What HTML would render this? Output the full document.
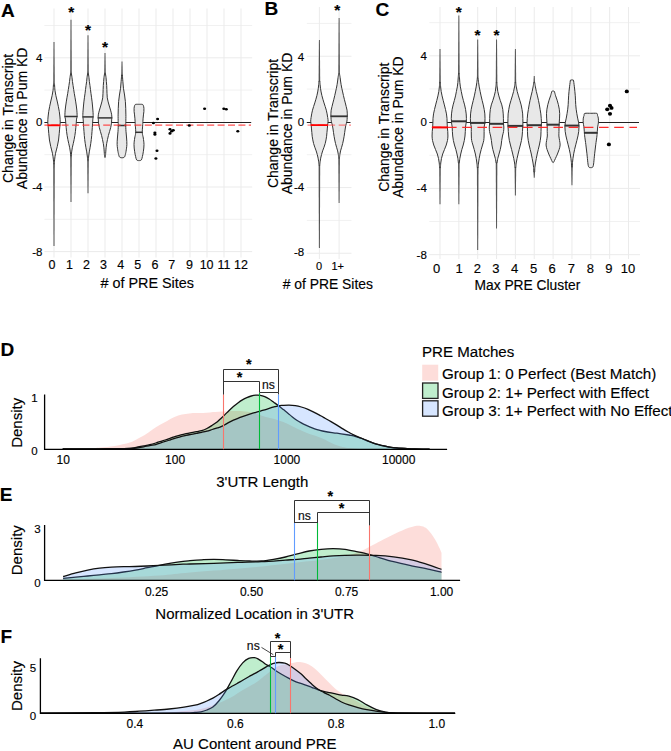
<!DOCTYPE html>
<html><head><meta charset="utf-8"><style>
html,body{margin:0;padding:0;background:#fff;}
svg{display:block;} text{stroke:#000;stroke-width:0.15px;}
</style></head><body>
<svg width="671" height="751" viewBox="0 0 671 751" style="font-family:'Liberation Sans',sans-serif">
<rect width="671" height="751" fill="#fff"/>
<line x1="44.4" x2="252.2" y1="25.50" y2="25.50" stroke="#f1f1f1" stroke-width="1"/>
<line x1="44.4" x2="252.2" y1="90.10" y2="90.10" stroke="#f1f1f1" stroke-width="1"/>
<line x1="44.4" x2="252.2" y1="154.70" y2="154.70" stroke="#f1f1f1" stroke-width="1"/>
<line x1="44.4" x2="252.2" y1="219.30" y2="219.30" stroke="#f1f1f1" stroke-width="1"/>
<line x1="44.4" x2="252.2" y1="57.80" y2="57.80" stroke="#ebebeb" stroke-width="1"/>
<line x1="44.4" x2="252.2" y1="187.00" y2="187.00" stroke="#ebebeb" stroke-width="1"/>
<line x1="44.4" x2="252.2" y1="251.60" y2="251.60" stroke="#ebebeb" stroke-width="1"/>
<line x1="54.0" x2="54.0" y1="8.5" y2="257.5" stroke="#ebebeb" stroke-width="1"/>
<line x1="71.0" x2="71.0" y1="8.5" y2="257.5" stroke="#ebebeb" stroke-width="1"/>
<line x1="88.0" x2="88.0" y1="8.5" y2="257.5" stroke="#ebebeb" stroke-width="1"/>
<line x1="105.0" x2="105.0" y1="8.5" y2="257.5" stroke="#ebebeb" stroke-width="1"/>
<line x1="122.0" x2="122.0" y1="8.5" y2="257.5" stroke="#ebebeb" stroke-width="1"/>
<line x1="139.0" x2="139.0" y1="8.5" y2="257.5" stroke="#ebebeb" stroke-width="1"/>
<line x1="156.0" x2="156.0" y1="8.5" y2="257.5" stroke="#ebebeb" stroke-width="1"/>
<line x1="173.0" x2="173.0" y1="8.5" y2="257.5" stroke="#ebebeb" stroke-width="1"/>
<line x1="190.0" x2="190.0" y1="8.5" y2="257.5" stroke="#ebebeb" stroke-width="1"/>
<line x1="207.0" x2="207.0" y1="8.5" y2="257.5" stroke="#ebebeb" stroke-width="1"/>
<line x1="224.0" x2="224.0" y1="8.5" y2="257.5" stroke="#ebebeb" stroke-width="1"/>
<line x1="241.0" x2="241.0" y1="8.5" y2="257.5" stroke="#ebebeb" stroke-width="1"/>
<text x="42.40" y="61.80" font-size="11.5" text-anchor="end" font-weight="normal" fill="#000" >4</text>
<text x="42.40" y="126.40" font-size="11.5" text-anchor="end" font-weight="normal" fill="#000" >0</text>
<text x="42.40" y="191.00" font-size="11.5" text-anchor="end" font-weight="normal" fill="#000" >-4</text>
<text x="42.40" y="255.60" font-size="11.5" text-anchor="end" font-weight="normal" fill="#000" >-8</text>
<text x="52.10" y="269.30" font-size="12.5" text-anchor="middle" font-weight="normal" fill="#000" >0</text>
<text x="69.50" y="269.30" font-size="12.5" text-anchor="middle" font-weight="normal" fill="#000" >1</text>
<text x="86.50" y="269.30" font-size="12.5" text-anchor="middle" font-weight="normal" fill="#000" >2</text>
<text x="103.50" y="269.30" font-size="12.5" text-anchor="middle" font-weight="normal" fill="#000" >3</text>
<text x="120.80" y="269.30" font-size="12.5" text-anchor="middle" font-weight="normal" fill="#000" >4</text>
<text x="137.80" y="269.30" font-size="12.5" text-anchor="middle" font-weight="normal" fill="#000" >5</text>
<text x="155.10" y="269.30" font-size="12.5" text-anchor="middle" font-weight="normal" fill="#000" >6</text>
<text x="171.80" y="269.30" font-size="12.5" text-anchor="middle" font-weight="normal" fill="#000" >7</text>
<text x="189.60" y="269.30" font-size="12.5" text-anchor="middle" font-weight="normal" fill="#000" >9</text>
<text x="206.60" y="269.30" font-size="12.5" text-anchor="middle" font-weight="normal" fill="#000" >10</text>
<text x="224.00" y="269.30" font-size="12.5" text-anchor="middle" font-weight="normal" fill="#000" >11</text>
<text x="241.00" y="269.30" font-size="12.5" text-anchor="middle" font-weight="normal" fill="#000" >12</text>
<text x="147.20" y="287.90" font-size="14.4" text-anchor="middle" font-weight="normal" fill="#000" ># of PRE Sites</text>
<text transform="translate(13.4,118.4) rotate(-90)" font-size="14" text-anchor="middle" fill="#000">Change in Transcript</text>
<text transform="translate(27.2,118.4) rotate(-90)" font-size="14" text-anchor="middle" fill="#000">Abundance in Pum KD</text>
<line x1="44.4" x2="251.2" y1="122.5" y2="122.5" stroke="#222" stroke-width="1.0"/>
<path d="M53.52,42 L54.48,42 L54.80,84.5 L53.20,84.5Z" fill="#555"/>
<path d="M53.52,246 L54.48,246 L54.80,163.5 L53.20,163.5Z" fill="#555"/>
<path d="M53.69,84.00 C53.64,84.17 53.55,83.95 53.44,85.00 C53.33,86.05 53.28,88.52 53.05,90.30 C52.83,92.08 52.47,93.92 52.10,95.70 C51.73,97.48 51.25,99.23 50.85,101.00 C50.45,102.77 50.06,104.53 49.70,106.30 C49.34,108.07 48.98,109.82 48.70,111.60 C48.43,113.38 48.20,115.22 48.05,117.00 C47.90,118.78 47.77,120.68 47.80,122.30 C47.82,123.92 48.04,124.87 48.20,126.70 C48.36,128.53 48.54,131.08 48.75,133.30 C48.96,135.52 49.12,137.78 49.45,140.00 C49.78,142.22 50.25,144.38 50.75,146.60 C51.25,148.82 52.01,151.08 52.45,153.30 C52.89,155.52 53.20,158.12 53.41,159.90 C53.61,161.68 53.64,163.32 53.69,164.00 L54.31,164.00 C54.36,163.32 54.39,161.68 54.59,159.90 C54.80,158.12 55.11,155.52 55.55,153.30 C55.99,151.08 56.75,148.82 57.25,146.60 C57.75,144.38 58.22,142.22 58.55,140.00 C58.88,137.78 59.04,135.52 59.25,133.30 C59.46,131.08 59.64,128.53 59.80,126.70 C59.96,124.87 60.18,123.92 60.20,122.30 C60.23,120.68 60.10,118.78 59.95,117.00 C59.80,115.22 59.57,113.38 59.30,111.60 C59.02,109.82 58.66,108.07 58.30,106.30 C57.94,104.53 57.55,102.77 57.15,101.00 C56.75,99.23 56.27,97.48 55.90,95.70 C55.53,93.92 55.17,92.08 54.95,90.30 C54.72,88.52 54.67,86.05 54.56,85.00 C54.45,83.95 54.36,84.17 54.31,84.00Z" fill="#e8e8e8" stroke="#353535" stroke-width="1.0" stroke-linejoin="round"/>
<path d="M70.53,19.7 L71.47,19.7 L71.80,73.7 L70.20,73.7Z" fill="#555"/>
<path d="M70.53,201.9 L71.47,201.9 L71.80,155.5 L70.20,155.5Z" fill="#555"/>
<path d="M70.69,73.20 C70.57,73.88 70.21,75.93 70.02,77.30 C69.83,78.67 69.73,80.03 69.55,81.40 C69.37,82.77 69.14,84.13 68.94,85.50 C68.73,86.87 68.53,88.23 68.32,89.60 C68.11,90.97 67.90,92.33 67.67,93.70 C67.44,95.07 67.16,96.43 66.93,97.80 C66.70,99.17 66.48,100.53 66.27,101.90 C66.06,103.27 65.84,104.63 65.66,106.00 C65.48,107.37 65.29,108.73 65.17,110.10 C65.05,111.47 64.97,113.12 64.92,114.20 C64.88,115.28 64.81,115.78 64.90,116.60 C64.99,117.42 65.30,118.00 65.45,119.10 C65.60,120.20 65.66,121.83 65.78,123.20 C65.90,124.57 66.02,125.93 66.15,127.30 C66.28,128.67 66.40,130.03 66.56,131.40 C66.72,132.77 66.91,134.13 67.13,135.50 C67.35,136.87 67.60,138.23 67.87,139.60 C68.14,140.97 68.46,142.33 68.77,143.70 C69.08,145.07 69.45,146.43 69.71,147.80 C69.97,149.17 70.18,150.53 70.34,151.90 C70.50,153.27 70.63,155.32 70.69,156.00 L71.31,156.00 C71.37,155.32 71.50,153.27 71.66,151.90 C71.82,150.53 72.03,149.17 72.29,147.80 C72.55,146.43 72.92,145.07 73.23,143.70 C73.54,142.33 73.86,140.97 74.13,139.60 C74.40,138.23 74.65,136.87 74.87,135.50 C75.09,134.13 75.28,132.77 75.44,131.40 C75.60,130.03 75.72,128.67 75.85,127.30 C75.98,125.93 76.10,124.57 76.22,123.20 C76.34,121.83 76.40,120.20 76.55,119.10 C76.70,118.00 77.01,117.42 77.10,116.60 C77.19,115.78 77.12,115.28 77.08,114.20 C77.03,113.12 76.95,111.47 76.83,110.10 C76.71,108.73 76.52,107.37 76.34,106.00 C76.16,104.63 75.94,103.27 75.73,101.90 C75.52,100.53 75.30,99.17 75.07,97.80 C74.84,96.43 74.56,95.07 74.33,93.70 C74.10,92.33 73.89,90.97 73.68,89.60 C73.47,88.23 73.27,86.87 73.06,85.50 C72.86,84.13 72.63,82.77 72.45,81.40 C72.27,80.03 72.17,78.67 71.98,77.30 C71.79,75.93 71.43,73.88 71.31,73.20Z" fill="#e8e8e8" stroke="#353535" stroke-width="1.0" stroke-linejoin="round"/>
<path d="M87.53,35.2 L88.47,35.2 L88.80,73.7 L87.20,73.7Z" fill="#555"/>
<path d="M87.53,193.2 L88.47,193.2 L88.80,159.6 L87.20,159.6Z" fill="#555"/>
<path d="M87.69,73.20 C87.58,73.88 87.23,75.93 87.06,77.30 C86.88,78.67 86.81,80.03 86.65,81.40 C86.48,82.77 86.25,84.13 86.06,85.50 C85.87,86.87 85.71,88.23 85.53,89.60 C85.35,90.97 85.19,92.33 85.00,93.70 C84.81,95.07 84.61,96.43 84.42,97.80 C84.23,99.17 84.05,100.53 83.89,101.90 C83.73,103.27 83.61,104.63 83.48,106.00 C83.35,107.37 83.21,108.73 83.11,110.10 C83.01,111.47 82.90,113.12 82.86,114.20 C82.82,115.28 82.81,115.78 82.86,116.60 C82.91,117.42 83.06,118.00 83.15,119.10 C83.24,120.20 83.31,121.83 83.40,123.20 C83.49,124.57 83.59,125.93 83.68,127.30 C83.78,128.67 83.87,130.03 83.97,131.40 C84.07,132.77 84.18,134.13 84.30,135.50 C84.42,136.87 84.55,138.23 84.71,139.60 C84.87,140.97 85.08,142.33 85.28,143.70 C85.48,145.07 85.70,146.43 85.94,147.80 C86.18,149.17 86.49,150.53 86.71,151.90 C86.94,153.27 87.12,154.63 87.29,156.00 C87.45,157.37 87.62,159.42 87.69,160.10 L88.31,160.10 C88.38,159.42 88.55,157.37 88.71,156.00 C88.88,154.63 89.06,153.27 89.29,151.90 C89.51,150.53 89.82,149.17 90.06,147.80 C90.30,146.43 90.52,145.07 90.72,143.70 C90.92,142.33 91.13,140.97 91.29,139.60 C91.45,138.23 91.58,136.87 91.70,135.50 C91.82,134.13 91.93,132.77 92.03,131.40 C92.13,130.03 92.22,128.67 92.32,127.30 C92.41,125.93 92.51,124.57 92.60,123.20 C92.69,121.83 92.76,120.20 92.85,119.10 C92.94,118.00 93.09,117.42 93.14,116.60 C93.19,115.78 93.18,115.28 93.14,114.20 C93.10,113.12 92.99,111.47 92.89,110.10 C92.79,108.73 92.65,107.37 92.52,106.00 C92.39,104.63 92.27,103.27 92.11,101.90 C91.95,100.53 91.77,99.17 91.58,97.80 C91.39,96.43 91.19,95.07 91.00,93.70 C90.81,92.33 90.65,90.97 90.47,89.60 C90.29,88.23 90.13,86.87 89.94,85.50 C89.75,84.13 89.52,82.77 89.35,81.40 C89.19,80.03 89.12,78.67 88.94,77.30 C88.77,75.93 88.42,73.88 88.31,73.20Z" fill="#e8e8e8" stroke="#353535" stroke-width="1.0" stroke-linejoin="round"/>
<path d="M104.53,52.9 L105.47,52.9 L105.80,73.7 L104.20,73.7Z" fill="#555"/>
<path d="M104.65,73.20 C104.54,73.88 104.17,75.93 104.00,77.30 C103.83,78.67 103.77,80.03 103.65,81.40 C103.53,82.77 103.38,84.13 103.30,85.50 C103.22,86.87 103.19,88.23 103.14,89.60 C103.09,90.97 103.05,92.33 102.98,93.70 C102.91,95.07 102.92,96.43 102.73,97.80 C102.54,99.17 102.17,100.53 101.83,101.90 C101.49,103.27 101.08,104.63 100.68,106.00 C100.28,107.37 99.83,108.73 99.45,110.10 C99.08,111.47 98.65,112.97 98.43,114.20 C98.21,115.43 98.16,116.68 98.14,117.50 C98.12,118.32 98.24,118.15 98.30,119.10 C98.36,120.05 98.35,121.83 98.51,123.20 C98.67,124.57 98.94,125.93 99.25,127.30 C99.56,128.67 100.01,130.03 100.40,131.40 C100.79,132.77 101.22,134.13 101.58,135.50 C101.94,136.87 102.23,138.23 102.53,139.60 C102.83,140.97 103.12,142.33 103.35,143.70 C103.58,145.07 103.76,146.43 103.91,147.80 C104.05,149.17 104.15,150.78 104.23,151.90 C104.31,153.02 104.34,153.72 104.41,154.50 C104.47,155.28 104.56,156.10 104.65,156.60 C104.74,157.10 104.90,157.35 104.95,157.50 L105.05,157.50 C105.10,157.35 105.26,157.10 105.35,156.60 C105.44,156.10 105.53,155.28 105.59,154.50 C105.66,153.72 105.69,153.02 105.77,151.90 C105.85,150.78 105.95,149.17 106.09,147.80 C106.24,146.43 106.42,145.07 106.65,143.70 C106.88,142.33 107.17,140.97 107.47,139.60 C107.77,138.23 108.06,136.87 108.42,135.50 C108.78,134.13 109.21,132.77 109.60,131.40 C109.99,130.03 110.44,128.67 110.75,127.30 C111.06,125.93 111.33,124.57 111.49,123.20 C111.65,121.83 111.64,120.05 111.70,119.10 C111.76,118.15 111.88,118.32 111.86,117.50 C111.84,116.68 111.79,115.43 111.57,114.20 C111.35,112.97 110.92,111.47 110.55,110.10 C110.17,108.73 109.72,107.37 109.32,106.00 C108.92,104.63 108.51,103.27 108.17,101.90 C107.83,100.53 107.46,99.17 107.27,97.80 C107.08,96.43 107.09,95.07 107.02,93.70 C106.95,92.33 106.91,90.97 106.86,89.60 C106.81,88.23 106.78,86.87 106.70,85.50 C106.62,84.13 106.47,82.77 106.35,81.40 C106.23,80.03 106.17,78.67 106.00,77.30 C105.83,75.93 105.46,73.88 105.35,73.20Z" fill="#e8e8e8" stroke="#353535" stroke-width="1.0" stroke-linejoin="round"/>
<path d="M121.53,61.6 L122.47,61.6 L122.80,75.5 L121.20,75.5Z" fill="#555"/>
<path d="M121.65,75.00 C121.56,76.11 121.30,79.43 121.12,81.65 C120.93,83.87 120.82,86.08 120.54,88.30 C120.26,90.52 119.76,92.78 119.44,95.00 C119.12,97.22 118.80,99.38 118.61,101.60 C118.42,103.82 118.36,106.08 118.28,108.30 C118.20,110.52 118.13,112.68 118.11,114.90 C118.09,117.12 118.15,119.97 118.18,121.60 C118.21,123.22 118.31,123.03 118.28,124.65 C118.25,126.27 118.16,129.08 118.01,131.30 C117.87,133.53 117.55,135.78 117.41,138.00 C117.27,140.22 117.05,142.38 117.14,144.60 C117.23,146.82 117.69,149.63 117.94,151.30 C118.19,152.97 118.45,153.72 118.67,154.60 C118.89,155.48 119.02,156.12 119.27,156.60 C119.52,157.08 119.75,157.30 120.20,157.50 C120.65,157.70 121.66,157.75 121.95,157.80 L122.05,157.80 C122.34,157.75 123.35,157.70 123.80,157.50 C124.25,157.30 124.48,157.08 124.73,156.60 C124.98,156.12 125.11,155.48 125.33,154.60 C125.55,153.72 125.81,152.97 126.06,151.30 C126.31,149.63 126.77,146.82 126.86,144.60 C126.95,142.38 126.73,140.22 126.59,138.00 C126.45,135.78 126.13,133.53 125.99,131.30 C125.84,129.08 125.75,126.27 125.72,124.65 C125.69,123.03 125.79,123.22 125.82,121.60 C125.85,119.97 125.91,117.12 125.89,114.90 C125.87,112.68 125.80,110.52 125.72,108.30 C125.64,106.08 125.58,103.82 125.39,101.60 C125.20,99.38 124.88,97.22 124.56,95.00 C124.24,92.78 123.74,90.52 123.46,88.30 C123.18,86.08 123.07,83.87 122.88,81.65 C122.70,79.43 122.44,76.11 122.35,75.00Z" fill="#e8e8e8" stroke="#353535" stroke-width="1.0" stroke-linejoin="round"/>
<path d="M138.95,104.30 C138.39,104.32 136.32,104.18 135.60,104.40 C134.88,104.62 134.86,104.95 134.61,105.60 C134.36,106.25 134.16,107.30 134.08,108.30 C134.00,109.30 134.03,110.50 134.11,111.60 C134.19,112.70 134.41,113.80 134.54,114.90 C134.67,116.00 134.78,117.08 134.88,118.20 C134.97,119.32 135.04,120.52 135.11,121.60 C135.18,122.67 135.18,123.03 135.28,124.65 C135.38,126.27 135.68,129.64 135.71,131.30 C135.74,132.96 135.61,133.48 135.44,134.60 C135.27,135.72 134.95,136.33 134.71,138.00 C134.47,139.67 134.03,142.38 134.01,144.60 C133.99,146.82 134.34,149.30 134.61,151.30 C134.88,153.30 135.28,155.17 135.61,156.60 C135.94,158.03 136.22,159.25 136.61,159.90 C137.00,160.55 137.56,160.38 137.95,160.50 C138.34,160.62 138.78,160.58 138.95,160.60 L139.05,160.60 C139.22,160.58 139.66,160.62 140.05,160.50 C140.44,160.38 141.00,160.55 141.39,159.90 C141.78,159.25 142.06,158.03 142.39,156.60 C142.72,155.17 143.12,153.30 143.39,151.30 C143.66,149.30 144.01,146.82 143.99,144.60 C143.97,142.38 143.53,139.67 143.29,138.00 C143.05,136.33 142.73,135.72 142.56,134.60 C142.39,133.48 142.26,132.96 142.29,131.30 C142.32,129.64 142.62,126.27 142.72,124.65 C142.82,123.03 142.82,122.67 142.89,121.60 C142.96,120.52 143.03,119.32 143.12,118.20 C143.22,117.08 143.33,116.00 143.46,114.90 C143.59,113.80 143.81,112.70 143.89,111.60 C143.97,110.50 144.00,109.30 143.92,108.30 C143.84,107.30 143.64,106.25 143.39,105.60 C143.14,104.95 143.12,104.62 142.40,104.40 C141.68,104.18 139.61,104.32 139.05,104.30Z" fill="#e8e8e8" stroke="#353535" stroke-width="1.0" stroke-linejoin="round"/>
<line x1="64.45" x2="77.55" y1="116.5" y2="116.5" stroke="#333" stroke-width="1.5"/>
<line x1="82.44" x2="93.56" y1="116.9" y2="116.9" stroke="#333" stroke-width="1.5"/>
<line x1="97.73" x2="112.27" y1="117.9" y2="117.9" stroke="#333" stroke-width="1.5"/>
<line x1="117.80" x2="126.20" y1="125.5" y2="125.5" stroke="#333" stroke-width="1.5"/>
<line x1="135.18" x2="142.82" y1="132.3" y2="132.3" stroke="#333" stroke-width="1.5"/>
<line x1="44.4" x2="251" y1="125.2" y2="125.2" stroke="#f33" stroke-opacity="0.85" stroke-width="1.3" stroke-dasharray="7 3.4" stroke-dashoffset="-6.80"/>
<line x1="47.62" x2="60.38" y1="125.3" y2="125.3" stroke="#f00" stroke-width="1.8"/>
<ellipse cx="157.6" cy="119" rx="1.55" ry="1.32" fill="#000"/>
<ellipse cx="153.4" cy="123" rx="1.55" ry="1.32" fill="#000"/>
<ellipse cx="154.9" cy="132.8" rx="1.55" ry="1.32" fill="#000"/>
<ellipse cx="154.9" cy="134.4" rx="1.55" ry="1.32" fill="#000"/>
<ellipse cx="157" cy="150.7" rx="1.55" ry="1.32" fill="#000"/>
<ellipse cx="155.9" cy="158.5" rx="1.55" ry="1.32" fill="#000"/>
<ellipse cx="170" cy="129.2" rx="1.55" ry="1.32" fill="#000"/>
<ellipse cx="173.3" cy="130.3" rx="1.55" ry="1.32" fill="#000"/>
<ellipse cx="171.6" cy="131.3" rx="1.55" ry="1.32" fill="#000"/>
<ellipse cx="170" cy="133.4" rx="1.55" ry="1.32" fill="#000"/>
<ellipse cx="189.3" cy="125.5" rx="1.55" ry="1.32" fill="#000"/>
<ellipse cx="204.6" cy="108.8" rx="1.55" ry="1.32" fill="#000"/>
<ellipse cx="223.8" cy="108.8" rx="1.55" ry="1.32" fill="#000"/>
<ellipse cx="226.3" cy="109.2" rx="1.55" ry="1.32" fill="#000"/>
<ellipse cx="237.8" cy="131.3" rx="1.55" ry="1.32" fill="#000"/>
<text x="71.20" y="17.22" font-size="15.5" text-anchor="middle" font-weight="bold" fill="#000" >*</text>
<text x="88.10" y="34.52" font-size="15.5" text-anchor="middle" font-weight="bold" fill="#000" >*</text>
<text x="105.10" y="52.32" font-size="15.5" text-anchor="middle" font-weight="bold" fill="#000" >*</text>
<text x="0.90" y="16.60" font-size="19" text-anchor="start" font-weight="bold" fill="#000" >A</text>
<line x1="306.8" x2="351.5" y1="23.38" y2="23.38" stroke="#f1f1f1" stroke-width="1"/>
<line x1="306.8" x2="351.5" y1="89.06" y2="89.06" stroke="#f1f1f1" stroke-width="1"/>
<line x1="306.8" x2="351.5" y1="154.74" y2="154.74" stroke="#f1f1f1" stroke-width="1"/>
<line x1="306.8" x2="351.5" y1="220.42" y2="220.42" stroke="#f1f1f1" stroke-width="1"/>
<line x1="306.8" x2="351.5" y1="56.22" y2="56.22" stroke="#ebebeb" stroke-width="1"/>
<line x1="306.8" x2="351.5" y1="187.58" y2="187.58" stroke="#ebebeb" stroke-width="1"/>
<line x1="306.8" x2="351.5" y1="253.26" y2="253.26" stroke="#ebebeb" stroke-width="1"/>
<line x1="319.4" x2="319.4" y1="7" y2="259" stroke="#ebebeb" stroke-width="1"/>
<line x1="339.1" x2="339.1" y1="7" y2="259" stroke="#ebebeb" stroke-width="1"/>
<text x="304.20" y="61.00" font-size="11.5" text-anchor="end" font-weight="normal" fill="#000" >4</text>
<text x="304.20" y="125.70" font-size="11.5" text-anchor="end" font-weight="normal" fill="#000" >0</text>
<text x="304.20" y="190.60" font-size="11.5" text-anchor="end" font-weight="normal" fill="#000" >-4</text>
<text x="304.20" y="255.60" font-size="11.5" text-anchor="end" font-weight="normal" fill="#000" >-8</text>
<text x="319.10" y="270.30" font-size="11" text-anchor="middle" font-weight="normal" fill="#000" >0</text>
<text x="337.70" y="270.30" font-size="11" text-anchor="middle" font-weight="normal" fill="#000" >1+</text>
<text x="327.80" y="288.60" font-size="13.9" text-anchor="middle" font-weight="normal" fill="#000" ># of PRE Sites</text>
<text transform="translate(277.9,123.5) rotate(-90)" font-size="14" text-anchor="middle" fill="#000">Change in Transcript</text>
<text transform="translate(291.7,123.5) rotate(-90)" font-size="14" text-anchor="middle" fill="#000">Abundance in Pum KD</text>
<line x1="306.8" x2="350.5" y1="122.5" y2="122.5" stroke="#222" stroke-width="1.0"/>
<path d="M318.92,40 L319.88,40 L320.20,81.5 L318.60,81.5Z" fill="#555"/>
<path d="M318.92,247.9 L319.88,247.9 L320.20,164.95 L318.60,164.95Z" fill="#555"/>
<path d="M318.95,81.00 C318.91,81.61 318.81,83.43 318.70,84.65 C318.59,85.87 318.47,87.08 318.30,88.30 C318.13,89.52 317.93,90.73 317.70,91.95 C317.47,93.17 317.20,94.38 316.90,95.60 C316.60,96.82 316.25,98.03 315.90,99.25 C315.55,100.47 315.18,101.68 314.80,102.90 C314.42,104.12 313.98,105.33 313.60,106.55 C313.22,107.77 312.82,108.98 312.50,110.20 C312.18,111.42 311.93,112.63 311.70,113.85 C311.47,115.07 311.27,116.28 311.10,117.50 C310.93,118.72 310.68,119.85 310.70,121.15 C310.72,122.45 311.07,124.00 311.20,125.30 C311.33,126.60 311.39,127.73 311.50,128.95 C311.61,130.17 311.73,131.38 311.85,132.60 C311.97,133.82 312.04,135.03 312.20,136.25 C312.36,137.47 312.57,138.68 312.80,139.90 C313.03,141.12 313.27,142.33 313.60,143.55 C313.93,144.77 314.37,145.98 314.80,147.20 C315.22,148.42 315.74,149.63 316.15,150.85 C316.56,152.07 316.93,153.28 317.25,154.50 C317.57,155.72 317.86,156.93 318.10,158.15 C318.34,159.37 318.54,160.58 318.70,161.80 C318.86,163.02 318.99,164.84 319.05,165.45 L319.75,165.45 C319.81,164.84 319.94,163.02 320.10,161.80 C320.26,160.58 320.46,159.37 320.70,158.15 C320.94,156.93 321.22,155.72 321.55,154.50 C321.87,153.28 322.24,152.07 322.65,150.85 C323.06,149.63 323.57,148.42 324.00,147.20 C324.43,145.98 324.87,144.77 325.20,143.55 C325.53,142.33 325.77,141.12 326.00,139.90 C326.23,138.68 326.44,137.47 326.60,136.25 C326.76,135.03 326.83,133.82 326.95,132.60 C327.07,131.38 327.19,130.17 327.30,128.95 C327.41,127.73 327.47,126.60 327.60,125.30 C327.73,124.00 328.08,122.45 328.10,121.15 C328.12,119.85 327.87,118.72 327.70,117.50 C327.53,116.28 327.33,115.07 327.10,113.85 C326.87,112.63 326.62,111.42 326.30,110.20 C325.98,108.98 325.58,107.77 325.20,106.55 C324.82,105.33 324.38,104.12 324.00,102.90 C323.62,101.68 323.25,100.47 322.90,99.25 C322.55,98.03 322.20,96.82 321.90,95.60 C321.60,94.38 321.33,93.17 321.10,91.95 C320.87,90.73 320.67,89.52 320.50,88.30 C320.33,87.08 320.21,85.87 320.10,84.65 C319.99,83.43 319.89,81.61 319.85,81.00Z" fill="#e8e8e8" stroke="#353535" stroke-width="1.0" stroke-linejoin="round"/>
<path d="M338.62,18 L339.58,18 L339.90,74.2 L338.30,74.2Z" fill="#555"/>
<path d="M338.62,203.1 L339.58,203.1 L339.90,157.70000000000002 L338.30,157.70000000000002Z" fill="#555"/>
<path d="M338.74,73.70 C338.63,74.31 338.26,76.13 338.08,77.35 C337.89,78.57 337.80,79.78 337.64,81.00 C337.47,82.22 337.29,83.43 337.08,84.65 C336.87,85.87 336.65,87.08 336.39,88.30 C336.14,89.52 335.83,90.73 335.55,91.95 C335.27,93.17 335.02,94.38 334.74,95.60 C334.46,96.82 334.17,98.03 333.86,99.25 C333.56,100.47 333.22,101.68 332.91,102.90 C332.60,104.12 332.29,105.33 332.00,106.55 C331.71,107.77 331.33,108.98 331.15,110.20 C330.97,111.42 330.92,112.63 330.90,113.85 C330.88,115.07 330.95,116.28 331.01,117.50 C331.07,118.72 331.03,119.84 331.26,121.15 C331.49,122.46 332.11,124.04 332.40,125.35 C332.69,126.66 332.83,127.78 333.02,129.00 C333.21,130.22 333.35,131.43 333.53,132.65 C333.71,133.87 333.88,135.08 334.08,136.30 C334.28,137.52 334.50,138.73 334.74,139.95 C334.99,141.17 335.25,142.38 335.55,143.60 C335.86,144.82 336.22,146.03 336.57,147.25 C336.92,148.47 337.34,149.68 337.64,150.90 C337.93,152.12 338.16,153.33 338.34,154.55 C338.52,155.77 338.67,157.59 338.74,158.20 L339.46,158.20 C339.53,157.59 339.68,155.77 339.86,154.55 C340.04,153.33 340.27,152.12 340.56,150.90 C340.86,149.68 341.28,148.47 341.63,147.25 C341.98,146.03 342.35,144.82 342.65,143.60 C342.96,142.38 343.22,141.17 343.46,139.95 C343.71,138.73 343.92,137.52 344.12,136.30 C344.32,135.08 344.49,133.87 344.67,132.65 C344.85,131.43 344.99,130.22 345.18,129.00 C345.37,127.78 345.51,126.66 345.80,125.35 C346.09,124.04 346.71,122.46 346.94,121.15 C347.17,119.84 347.13,118.72 347.19,117.50 C347.25,116.28 347.32,115.07 347.30,113.85 C347.28,112.63 347.23,111.42 347.05,110.20 C346.87,108.98 346.49,107.77 346.20,106.55 C345.91,105.33 345.60,104.12 345.29,102.90 C344.98,101.68 344.65,100.47 344.34,99.25 C344.04,98.03 343.74,96.82 343.46,95.60 C343.18,94.38 342.93,93.17 342.65,91.95 C342.38,90.73 342.06,89.52 341.81,88.30 C341.56,87.08 341.33,85.87 341.12,84.65 C340.91,83.43 340.73,82.22 340.56,81.00 C340.40,79.78 340.31,78.57 340.12,77.35 C339.94,76.13 339.57,74.31 339.46,73.70Z" fill="#e8e8e8" stroke="#353535" stroke-width="1.0" stroke-linejoin="round"/>
<line x1="330.52" x2="347.68" y1="116.3" y2="116.3" stroke="#333" stroke-width="1.8"/>
<line x1="306.8" x2="351" y1="125.1" y2="125.1" stroke="#f33" stroke-opacity="0.6" stroke-width="1.3" stroke-dasharray="6.8 3.6" stroke-dashoffset="-0.70"/>
<line x1="310.73" x2="328.07" y1="125.1" y2="125.1" stroke="#f00" stroke-width="1.8"/>
<text x="337.30" y="15.12" font-size="15.5" text-anchor="middle" font-weight="bold" fill="#000" >*</text>
<text x="264.40" y="15.40" font-size="19" text-anchor="start" font-weight="bold" fill="#000" >B</text>
<line x1="429.3" x2="640" y1="22.68" y2="22.68" stroke="#f1f1f1" stroke-width="1"/>
<line x1="429.3" x2="640" y1="88.96" y2="88.96" stroke="#f1f1f1" stroke-width="1"/>
<line x1="429.3" x2="640" y1="155.24" y2="155.24" stroke="#f1f1f1" stroke-width="1"/>
<line x1="429.3" x2="640" y1="221.52" y2="221.52" stroke="#f1f1f1" stroke-width="1"/>
<line x1="429.3" x2="640" y1="55.82" y2="55.82" stroke="#ebebeb" stroke-width="1"/>
<line x1="429.3" x2="640" y1="188.38" y2="188.38" stroke="#ebebeb" stroke-width="1"/>
<line x1="429.3" x2="640" y1="254.66" y2="254.66" stroke="#ebebeb" stroke-width="1"/>
<line x1="440.0" x2="440.0" y1="7" y2="259" stroke="#ebebeb" stroke-width="1"/>
<line x1="458.85" x2="458.85" y1="7" y2="259" stroke="#ebebeb" stroke-width="1"/>
<line x1="477.7" x2="477.7" y1="7" y2="259" stroke="#ebebeb" stroke-width="1"/>
<line x1="496.55" x2="496.55" y1="7" y2="259" stroke="#ebebeb" stroke-width="1"/>
<line x1="515.4" x2="515.4" y1="7" y2="259" stroke="#ebebeb" stroke-width="1"/>
<line x1="534.25" x2="534.25" y1="7" y2="259" stroke="#ebebeb" stroke-width="1"/>
<line x1="553.1" x2="553.1" y1="7" y2="259" stroke="#ebebeb" stroke-width="1"/>
<line x1="571.95" x2="571.95" y1="7" y2="259" stroke="#ebebeb" stroke-width="1"/>
<line x1="590.8" x2="590.8" y1="7" y2="259" stroke="#ebebeb" stroke-width="1"/>
<line x1="609.65" x2="609.65" y1="7" y2="259" stroke="#ebebeb" stroke-width="1"/>
<line x1="628.5" x2="628.5" y1="7" y2="259" stroke="#ebebeb" stroke-width="1"/>
<text x="426.80" y="59.82" font-size="11.5" text-anchor="end" font-weight="normal" fill="#000" >4</text>
<text x="426.80" y="126.10" font-size="11.5" text-anchor="end" font-weight="normal" fill="#000" >0</text>
<text x="426.80" y="192.38" font-size="11.5" text-anchor="end" font-weight="normal" fill="#000" >-4</text>
<text x="426.80" y="258.66" font-size="11.5" text-anchor="end" font-weight="normal" fill="#000" >-8</text>
<text x="436.70" y="272.90" font-size="13" text-anchor="middle" font-weight="normal" fill="#000" >0</text>
<text x="459.05" y="272.90" font-size="13" text-anchor="middle" font-weight="normal" fill="#000" >1</text>
<text x="477.30" y="272.90" font-size="13" text-anchor="middle" font-weight="normal" fill="#000" >2</text>
<text x="495.75" y="272.90" font-size="13" text-anchor="middle" font-weight="normal" fill="#000" >3</text>
<text x="514.60" y="272.90" font-size="13" text-anchor="middle" font-weight="normal" fill="#000" >4</text>
<text x="533.65" y="272.90" font-size="13" text-anchor="middle" font-weight="normal" fill="#000" >5</text>
<text x="552.10" y="272.90" font-size="13" text-anchor="middle" font-weight="normal" fill="#000" >6</text>
<text x="571.45" y="272.90" font-size="13" text-anchor="middle" font-weight="normal" fill="#000" >7</text>
<text x="590.30" y="272.90" font-size="13" text-anchor="middle" font-weight="normal" fill="#000" >8</text>
<text x="608.85" y="272.90" font-size="13" text-anchor="middle" font-weight="normal" fill="#000" >9</text>
<text x="628.10" y="272.90" font-size="13" text-anchor="middle" font-weight="normal" fill="#000" >10</text>
<text x="527.40" y="289.90" font-size="13.8" text-anchor="middle" font-weight="normal" fill="#000" >Max PRE Cluster</text>
<text transform="translate(388.6,127.2) rotate(-90)" font-size="14" text-anchor="middle" fill="#000">Change in Transcript</text>
<text transform="translate(402.6,127.2) rotate(-90)" font-size="14" text-anchor="middle" fill="#000">Abundance in Pum KD</text>
<line x1="429.3" x2="639" y1="122.5" y2="122.5" stroke="#222" stroke-width="1.0"/>
<path d="M439.52,48.9 L440.48,48.9 L440.80,82.9 L439.20,82.9Z" fill="#555"/>
<path d="M439.52,204.3 L440.48,204.3 L440.80,167.0 L439.20,167.0Z" fill="#555"/>
<path d="M439.70,82.40 C439.64,83.15 439.51,85.40 439.36,86.90 C439.22,88.40 439.08,89.90 438.84,91.40 C438.60,92.90 438.27,94.40 437.93,95.90 C437.59,97.40 437.19,98.90 436.81,100.40 C436.43,101.90 436.03,103.40 435.65,104.90 C435.27,106.40 434.88,107.90 434.53,109.40 C434.18,110.90 433.79,112.40 433.54,113.90 C433.29,115.40 433.12,116.90 433.01,118.40 C432.90,119.90 432.92,121.47 432.87,122.90 C432.82,124.33 432.79,125.57 432.68,127.00 C432.58,128.43 432.34,130.00 432.24,131.50 C432.14,133.00 432.02,134.50 432.07,136.00 C432.12,137.50 432.25,139.00 432.53,140.50 C432.81,142.00 433.24,143.50 433.74,145.00 C434.24,146.50 434.93,148.00 435.53,149.50 C436.13,151.00 436.82,152.50 437.32,154.00 C437.82,155.50 438.20,157.00 438.52,158.50 C438.84,160.00 439.07,161.50 439.24,163.00 C439.41,164.50 439.50,166.75 439.55,167.50 L440.45,167.50 C440.50,166.75 440.59,164.50 440.76,163.00 C440.93,161.50 441.16,160.00 441.48,158.50 C441.80,157.00 442.18,155.50 442.68,154.00 C443.18,152.50 443.87,151.00 444.47,149.50 C445.07,148.00 445.76,146.50 446.26,145.00 C446.76,143.50 447.19,142.00 447.47,140.50 C447.75,139.00 447.88,137.50 447.93,136.00 C447.98,134.50 447.86,133.00 447.76,131.50 C447.66,130.00 447.42,128.43 447.32,127.00 C447.21,125.57 447.18,124.33 447.13,122.90 C447.08,121.47 447.10,119.90 446.99,118.40 C446.88,116.90 446.71,115.40 446.46,113.90 C446.21,112.40 445.82,110.90 445.47,109.40 C445.12,107.90 444.73,106.40 444.35,104.90 C443.97,103.40 443.57,101.90 443.19,100.40 C442.81,98.90 442.41,97.40 442.07,95.90 C441.73,94.40 441.40,92.90 441.16,91.40 C440.92,89.90 440.78,88.40 440.64,86.90 C440.49,85.40 440.36,83.15 440.30,82.40Z" fill="#e8e8e8" stroke="#353535" stroke-width="1.0" stroke-linejoin="round"/>
<path d="M458.38,15.5 L459.33,15.5 L459.65,73.9 L458.05,73.9Z" fill="#555"/>
<path d="M458.38,204.3 L459.33,204.3 L459.65,162.5 L458.05,162.5Z" fill="#555"/>
<path d="M458.55,73.40 C458.49,74.15 458.32,76.40 458.21,77.90 C458.10,79.40 458.04,80.90 457.89,82.40 C457.74,83.90 457.55,85.40 457.31,86.90 C457.07,88.40 456.72,89.90 456.42,91.40 C456.12,92.90 455.86,94.40 455.52,95.90 C455.18,97.40 454.76,98.90 454.36,100.40 C453.96,101.90 453.48,103.40 453.11,104.90 C452.74,106.40 452.40,107.90 452.13,109.40 C451.86,110.90 451.64,112.40 451.50,113.90 C451.36,115.40 451.27,116.90 451.28,118.40 C451.29,119.90 451.40,121.47 451.55,122.90 C451.70,124.33 452.06,125.57 452.20,127.00 C452.34,128.43 452.31,130.00 452.39,131.50 C452.47,133.00 452.54,134.50 452.71,136.00 C452.87,137.50 453.10,139.00 453.39,140.50 C453.68,142.00 454.06,143.50 454.47,145.00 C454.88,146.50 455.43,148.00 455.85,149.50 C456.27,151.00 456.63,152.50 456.97,154.00 C457.31,155.50 457.63,157.00 457.87,158.50 C458.11,160.00 458.31,162.25 458.40,163.00 L459.30,163.00 C459.39,162.25 459.59,160.00 459.83,158.50 C460.07,157.00 460.39,155.50 460.73,154.00 C461.07,152.50 461.43,151.00 461.85,149.50 C462.27,148.00 462.82,146.50 463.23,145.00 C463.64,143.50 464.02,142.00 464.31,140.50 C464.60,139.00 464.83,137.50 464.99,136.00 C465.16,134.50 465.23,133.00 465.31,131.50 C465.39,130.00 465.36,128.43 465.50,127.00 C465.64,125.57 466.00,124.33 466.15,122.90 C466.30,121.47 466.41,119.90 466.42,118.40 C466.43,116.90 466.34,115.40 466.20,113.90 C466.06,112.40 465.84,110.90 465.57,109.40 C465.30,107.90 464.96,106.40 464.59,104.90 C464.22,103.40 463.74,101.90 463.34,100.40 C462.94,98.90 462.52,97.40 462.18,95.90 C461.84,94.40 461.58,92.90 461.28,91.40 C460.98,89.90 460.63,88.40 460.39,86.90 C460.15,85.40 459.96,83.90 459.81,82.40 C459.66,80.90 459.60,79.40 459.49,77.90 C459.38,76.40 459.21,74.15 459.15,73.40Z" fill="#e8e8e8" stroke="#353535" stroke-width="1.0" stroke-linejoin="round"/>
<path d="M477.22,39.4 L478.18,39.4 L478.50,78.4 L476.90,78.4Z" fill="#555"/>
<path d="M477.22,249.9 L478.18,249.9 L478.50,167.0 L476.90,167.0Z" fill="#555"/>
<path d="M477.40,77.90 C477.30,78.65 477.04,80.90 476.83,82.40 C476.62,83.90 476.42,85.40 476.16,86.90 C475.90,88.40 475.57,89.90 475.27,91.40 C474.96,92.90 474.66,94.40 474.33,95.90 C474.00,97.40 473.62,98.90 473.26,100.40 C472.89,101.90 472.48,103.40 472.14,104.90 C471.80,106.40 471.46,107.90 471.20,109.40 C470.94,110.90 470.70,112.40 470.57,113.90 C470.44,115.40 470.41,116.90 470.40,118.40 C470.39,119.90 470.35,121.47 470.50,122.90 C470.65,124.33 471.14,125.57 471.27,127.00 C471.40,128.43 471.27,130.00 471.28,131.50 C471.29,133.00 471.26,134.50 471.33,136.00 C471.39,137.50 471.40,139.00 471.66,140.50 C471.92,142.00 472.48,143.50 472.91,145.00 C473.33,146.50 473.80,148.00 474.21,149.50 C474.62,151.00 475.04,152.50 475.37,154.00 C475.70,155.50 475.96,157.00 476.22,158.50 C476.47,160.00 476.73,161.50 476.90,163.00 C477.07,164.50 477.19,166.75 477.25,167.50 L478.15,167.50 C478.21,166.75 478.33,164.50 478.50,163.00 C478.67,161.50 478.93,160.00 479.18,158.50 C479.44,157.00 479.69,155.50 480.03,154.00 C480.36,152.50 480.78,151.00 481.19,149.50 C481.60,148.00 482.06,146.50 482.49,145.00 C482.92,143.50 483.48,142.00 483.74,140.50 C484.00,139.00 484.01,137.50 484.07,136.00 C484.14,134.50 484.11,133.00 484.12,131.50 C484.13,130.00 484.00,128.43 484.13,127.00 C484.26,125.57 484.75,124.33 484.90,122.90 C485.05,121.47 485.01,119.90 485.00,118.40 C484.99,116.90 484.96,115.40 484.83,113.90 C484.70,112.40 484.46,110.90 484.20,109.40 C483.94,107.90 483.60,106.40 483.26,104.90 C482.92,103.40 482.50,101.90 482.14,100.40 C481.77,98.90 481.40,97.40 481.07,95.90 C480.74,94.40 480.44,92.90 480.13,91.40 C479.82,89.90 479.50,88.40 479.24,86.90 C478.98,85.40 478.78,83.90 478.57,82.40 C478.36,80.90 478.10,78.65 478.00,77.90Z" fill="#e8e8e8" stroke="#353535" stroke-width="1.0" stroke-linejoin="round"/>
<path d="M496.07,39.4 L497.03,39.4 L497.35,82.9 L495.75,82.9Z" fill="#555"/>
<path d="M496.07,228.4 L497.03,228.4 L497.35,162.5 L495.75,162.5Z" fill="#555"/>
<path d="M496.25,82.40 C496.19,83.15 496.07,85.40 495.91,86.90 C495.76,88.40 495.61,89.90 495.33,91.40 C495.05,92.90 494.66,94.40 494.25,95.90 C493.84,97.40 493.36,98.90 492.87,100.40 C492.38,101.90 491.73,103.40 491.30,104.90 C490.88,106.40 490.56,107.90 490.32,109.40 C490.08,110.90 489.98,112.40 489.87,113.90 C489.76,115.40 489.73,116.90 489.69,118.40 C489.65,119.90 489.72,121.47 489.65,122.90 C489.58,124.33 489.29,125.57 489.27,127.00 C489.25,128.43 489.32,130.00 489.55,131.50 C489.77,133.00 490.32,134.50 490.63,136.00 C490.94,137.50 491.19,139.00 491.41,140.50 C491.63,142.00 491.70,143.50 491.94,145.00 C492.18,146.50 492.48,148.00 492.84,149.50 C493.20,151.00 493.67,152.50 494.09,154.00 C494.51,155.50 495.01,157.00 495.34,158.50 C495.68,160.00 495.97,162.25 496.10,163.00 L497.00,163.00 C497.13,162.25 497.43,160.00 497.76,158.50 C498.09,157.00 498.59,155.50 499.01,154.00 C499.43,152.50 499.90,151.00 500.26,149.50 C500.62,148.00 500.92,146.50 501.16,145.00 C501.40,143.50 501.47,142.00 501.69,140.50 C501.91,139.00 502.16,137.50 502.47,136.00 C502.78,134.50 503.33,133.00 503.55,131.50 C503.78,130.00 503.85,128.43 503.83,127.00 C503.81,125.57 503.52,124.33 503.45,122.90 C503.38,121.47 503.45,119.90 503.41,118.40 C503.37,116.90 503.34,115.40 503.23,113.90 C503.12,112.40 503.02,110.90 502.78,109.40 C502.54,107.90 502.23,106.40 501.80,104.90 C501.38,103.40 500.72,101.90 500.23,100.40 C499.74,98.90 499.26,97.40 498.85,95.90 C498.44,94.40 498.05,92.90 497.77,91.40 C497.49,89.90 497.34,88.40 497.19,86.90 C497.03,85.40 496.91,83.15 496.85,82.40Z" fill="#e8e8e8" stroke="#353535" stroke-width="1.0" stroke-linejoin="round"/>
<path d="M514.92,48.9 L515.88,48.9 L516.20,82.9 L514.60,82.9Z" fill="#555"/>
<path d="M514.92,195.5 L515.88,195.5 L516.20,167.0 L514.60,167.0Z" fill="#555"/>
<path d="M515.10,82.40 C515.00,83.15 514.78,85.40 514.53,86.90 C514.28,88.40 513.96,89.90 513.60,91.40 C513.24,92.90 512.78,94.40 512.34,95.90 C511.90,97.40 511.41,98.90 510.96,100.40 C510.51,101.90 510.02,103.40 509.66,104.90 C509.29,106.40 509.02,107.90 508.77,109.40 C508.52,110.90 508.27,112.40 508.14,113.90 C508.00,115.40 508.00,116.90 507.96,118.40 C507.91,119.90 507.85,121.47 507.87,122.90 C507.89,124.33 508.01,125.57 508.08,127.00 C508.15,128.43 508.21,130.00 508.31,131.50 C508.41,133.00 508.50,134.50 508.68,136.00 C508.85,137.50 509.07,139.00 509.36,140.50 C509.65,142.00 510.07,143.50 510.44,145.00 C510.81,146.50 511.22,148.00 511.60,149.50 C511.98,151.00 512.36,152.50 512.72,154.00 C513.08,155.50 513.44,157.00 513.75,158.50 C514.06,160.00 514.40,161.50 514.60,163.00 C514.80,164.50 514.89,166.75 514.95,167.50 L515.85,167.50 C515.91,166.75 516.00,164.50 516.20,163.00 C516.40,161.50 516.74,160.00 517.05,158.50 C517.36,157.00 517.72,155.50 518.08,154.00 C518.44,152.50 518.82,151.00 519.20,149.50 C519.58,148.00 519.99,146.50 520.36,145.00 C520.73,143.50 521.15,142.00 521.44,140.50 C521.73,139.00 521.95,137.50 522.12,136.00 C522.30,134.50 522.39,133.00 522.49,131.50 C522.59,130.00 522.65,128.43 522.72,127.00 C522.79,125.57 522.91,124.33 522.93,122.90 C522.95,121.47 522.88,119.90 522.84,118.40 C522.80,116.90 522.79,115.40 522.66,113.90 C522.52,112.40 522.28,110.90 522.03,109.40 C521.78,107.90 521.50,106.40 521.14,104.90 C520.77,103.40 520.29,101.90 519.84,100.40 C519.39,98.90 518.90,97.40 518.46,95.90 C518.02,94.40 517.56,92.90 517.20,91.40 C516.84,89.90 516.52,88.40 516.27,86.90 C516.02,85.40 515.80,83.15 515.70,82.40Z" fill="#e8e8e8" stroke="#353535" stroke-width="1.0" stroke-linejoin="round"/>
<path d="M533.77,76.1 L534.73,76.1 L535.05,82.9 L533.45,82.9Z" fill="#555"/>
<path d="M533.77,177.7 L534.73,177.7 L535.05,171.5 L533.45,171.5Z" fill="#555"/>
<path d="M533.81,82.40 C533.69,83.15 533.36,85.40 533.09,86.90 C532.81,88.40 532.52,89.90 532.18,91.40 C531.84,92.90 531.42,94.40 531.06,95.90 C530.70,97.40 530.35,98.90 530.03,100.40 C529.71,101.90 529.41,103.40 529.14,104.90 C528.87,106.40 528.63,107.90 528.38,109.40 C528.13,110.90 527.85,112.40 527.66,113.90 C527.47,115.40 527.37,116.90 527.26,118.40 C527.15,119.90 527.01,121.47 527.03,122.90 C527.05,124.33 527.31,125.57 527.38,127.00 C527.45,128.43 527.42,130.00 527.47,131.50 C527.51,133.00 527.52,134.50 527.66,136.00 C527.79,137.50 528.01,139.00 528.26,140.50 C528.51,142.00 528.82,143.50 529.15,145.00 C529.48,146.50 529.86,148.00 530.22,149.50 C530.58,151.00 530.97,152.50 531.30,154.00 C531.63,155.50 531.90,157.00 532.19,158.50 C532.48,160.00 532.79,161.50 533.04,163.00 C533.29,164.50 533.54,166.00 533.67,167.50 C533.80,169.00 533.78,171.25 533.80,172.00 L534.70,172.00 C534.72,171.25 534.70,169.00 534.83,167.50 C534.96,166.00 535.21,164.50 535.46,163.00 C535.71,161.50 536.02,160.00 536.31,158.50 C536.60,157.00 536.87,155.50 537.20,154.00 C537.53,152.50 537.92,151.00 538.28,149.50 C538.64,148.00 539.02,146.50 539.35,145.00 C539.68,143.50 539.99,142.00 540.24,140.50 C540.49,139.00 540.71,137.50 540.84,136.00 C540.98,134.50 540.99,133.00 541.03,131.50 C541.08,130.00 541.05,128.43 541.12,127.00 C541.19,125.57 541.45,124.33 541.47,122.90 C541.49,121.47 541.35,119.90 541.24,118.40 C541.13,116.90 541.03,115.40 540.84,113.90 C540.65,112.40 540.37,110.90 540.12,109.40 C539.87,107.90 539.63,106.40 539.36,104.90 C539.09,103.40 538.79,101.90 538.47,100.40 C538.15,98.90 537.80,97.40 537.44,95.90 C537.08,94.40 536.66,92.90 536.32,91.40 C535.98,89.90 535.69,88.40 535.41,86.90 C535.14,85.40 534.81,83.15 534.69,82.40Z" fill="#e8e8e8" stroke="#353535" stroke-width="1.0" stroke-linejoin="round"/>
<path d="M553.05,91.20 C552.86,91.22 552.35,90.53 551.94,91.30 C551.52,92.07 551.06,94.32 550.58,95.80 C550.10,97.28 549.52,98.72 549.06,100.20 C548.60,101.68 548.17,103.20 547.81,104.70 C547.45,106.20 547.13,107.70 546.91,109.20 C546.69,110.70 546.55,112.22 546.51,113.70 C546.47,115.18 546.56,116.62 546.64,118.10 C546.72,119.58 546.86,121.12 546.96,122.60 C547.06,124.08 547.17,125.52 547.21,127.00 C547.25,128.48 547.20,130.00 547.22,131.50 C547.24,133.00 547.42,134.50 547.32,136.00 C547.22,137.50 546.82,139.00 546.61,140.50 C546.40,142.00 546.00,143.50 546.08,145.00 C546.16,146.50 546.61,148.00 547.06,149.50 C547.51,151.00 548.14,152.50 548.76,154.00 C549.38,155.50 550.17,157.20 550.77,158.50 C551.37,159.80 551.96,161.10 552.34,161.80 C552.72,162.50 552.93,162.55 553.05,162.70 L553.15,162.70 C553.27,162.55 553.48,162.50 553.86,161.80 C554.24,161.10 554.83,159.80 555.43,158.50 C556.03,157.20 556.82,155.50 557.44,154.00 C558.06,152.50 558.69,151.00 559.14,149.50 C559.59,148.00 560.04,146.50 560.12,145.00 C560.20,143.50 559.80,142.00 559.59,140.50 C559.38,139.00 558.98,137.50 558.88,136.00 C558.78,134.50 558.96,133.00 558.98,131.50 C559.00,130.00 558.95,128.48 558.99,127.00 C559.03,125.52 559.14,124.08 559.24,122.60 C559.34,121.12 559.49,119.58 559.56,118.10 C559.64,116.62 559.74,115.18 559.69,113.70 C559.65,112.22 559.51,110.70 559.29,109.20 C559.07,107.70 558.75,106.20 558.39,104.70 C558.03,103.20 557.60,101.68 557.14,100.20 C556.68,98.72 556.10,97.28 555.62,95.80 C555.14,94.32 554.68,92.07 554.26,91.30 C553.85,90.53 553.34,91.22 553.15,91.20Z" fill="#e8e8e8" stroke="#353535" stroke-width="1.0" stroke-linejoin="round"/>
<path d="M571.48,185.3 L572.43,185.3 L572.75,166.5 L571.15,166.5Z" fill="#555"/>
<path d="M571.90,80.00 C571.67,80.02 570.80,79.70 570.50,80.10 C570.20,80.50 570.26,81.28 570.10,82.40 C569.94,83.52 569.70,85.32 569.52,86.80 C569.34,88.28 569.18,89.80 569.03,91.30 C568.88,92.80 568.74,94.32 568.63,95.80 C568.52,97.28 568.48,98.72 568.40,100.20 C568.33,101.68 568.29,103.20 568.18,104.70 C568.07,106.20 567.92,107.70 567.73,109.20 C567.54,110.70 567.31,112.22 567.06,113.70 C566.81,115.18 566.55,116.62 566.25,118.10 C565.95,119.58 565.49,121.13 565.27,122.60 C565.05,124.07 564.92,125.43 564.91,126.90 C564.89,128.37 565.00,129.90 565.18,131.40 C565.35,132.90 565.63,134.40 565.94,135.90 C566.25,137.40 566.66,138.92 567.03,140.40 C567.40,141.88 567.78,143.32 568.15,144.80 C568.52,146.28 568.93,147.80 569.27,149.30 C569.61,150.80 569.94,152.30 570.21,153.80 C570.49,155.30 570.72,156.82 570.92,158.30 C571.12,159.78 571.31,161.25 571.41,162.70 C571.51,164.15 571.49,166.28 571.50,167.00 L572.40,167.00 C572.42,166.28 572.39,164.15 572.49,162.70 C572.59,161.25 572.78,159.78 572.98,158.30 C573.18,156.82 573.42,155.30 573.69,153.80 C573.97,152.30 574.29,150.80 574.63,149.30 C574.97,147.80 575.38,146.28 575.75,144.80 C576.12,143.32 576.50,141.88 576.87,140.40 C577.24,138.92 577.65,137.40 577.96,135.90 C578.27,134.40 578.55,132.90 578.73,131.40 C578.90,129.90 579.01,128.37 578.99,126.90 C578.98,125.43 578.85,124.07 578.63,122.60 C578.41,121.13 577.95,119.58 577.65,118.10 C577.35,116.62 577.09,115.18 576.84,113.70 C576.59,112.22 576.36,110.70 576.17,109.20 C575.98,107.70 575.83,106.20 575.72,104.70 C575.61,103.20 575.58,101.68 575.50,100.20 C575.42,98.72 575.38,97.28 575.27,95.80 C575.17,94.32 575.02,92.80 574.87,91.30 C574.72,89.80 574.56,88.28 574.38,86.80 C574.20,85.32 573.96,83.52 573.80,82.40 C573.64,81.28 573.70,80.50 573.40,80.10 C573.10,79.70 572.23,80.02 572.00,80.00Z" fill="#e8e8e8" stroke="#353535" stroke-width="1.0" stroke-linejoin="round"/>
<path d="M590.75,113.30 C589.76,113.32 585.91,113.05 584.80,113.40 C583.69,113.75 584.35,114.62 584.10,115.40 C583.85,116.18 583.45,116.90 583.30,118.10 C583.15,119.30 583.09,121.13 583.20,122.60 C583.31,124.07 583.75,125.43 583.94,126.90 C584.12,128.37 584.17,129.90 584.29,131.40 C584.42,132.90 584.40,133.67 584.66,135.90 C584.93,138.13 585.50,141.82 585.88,144.80 C586.26,147.78 586.62,150.82 586.95,153.80 C587.28,156.78 587.60,160.62 587.85,162.70 C588.10,164.78 588.22,165.50 588.47,166.30 C588.72,167.10 588.99,167.28 589.37,167.50 C589.75,167.72 590.52,167.58 590.75,167.60 L590.85,167.60 C591.08,167.58 591.85,167.72 592.23,167.50 C592.61,167.28 592.88,167.10 593.13,166.30 C593.38,165.50 593.50,164.78 593.75,162.70 C594.00,160.62 594.32,156.78 594.65,153.80 C594.98,150.82 595.34,147.78 595.72,144.80 C596.10,141.82 596.67,138.13 596.94,135.90 C597.20,133.67 597.18,132.90 597.30,131.40 C597.43,129.90 597.48,128.37 597.66,126.90 C597.84,125.43 598.29,124.07 598.40,122.60 C598.51,121.13 598.45,119.30 598.30,118.10 C598.15,116.90 597.75,116.18 597.50,115.40 C597.25,114.62 597.91,113.75 596.80,113.40 C595.69,113.05 591.84,113.32 590.85,113.30Z" fill="#e8e8e8" stroke="#353535" stroke-width="1.0" stroke-linejoin="round"/>
<line x1="451.00" x2="466.70" y1="121.3" y2="121.3" stroke="#333" stroke-width="2"/>
<line x1="470.05" x2="485.35" y1="122.9" y2="122.9" stroke="#333" stroke-width="2"/>
<line x1="489.12" x2="503.98" y1="123.8" y2="123.8" stroke="#333" stroke-width="2"/>
<line x1="507.57" x2="523.23" y1="125.9" y2="125.9" stroke="#333" stroke-width="2"/>
<line x1="526.78" x2="541.72" y1="125.2" y2="125.2" stroke="#333" stroke-width="2"/>
<line x1="546.63" x2="559.57" y1="124.7" y2="124.7" stroke="#333" stroke-width="2"/>
<line x1="564.57" x2="579.33" y1="125.6" y2="125.6" stroke="#333" stroke-width="2"/>
<line x1="583.96" x2="597.64" y1="132.8" y2="132.8" stroke="#333" stroke-width="2"/>
<line x1="429.3" x2="637" y1="127.4" y2="127.4" stroke="#f22" stroke-opacity="0.95" stroke-width="1.4" stroke-dasharray="9.6 5.6" stroke-dashoffset="-2.50"/>
<line x1="432.19" x2="447.81" y1="127.4" y2="127.4" stroke="#f00" stroke-width="2.0"/>
<ellipse cx="607.2" cy="109.3" rx="2.05" ry="1.84" fill="#000"/>
<ellipse cx="610" cy="105.7" rx="2.05" ry="1.84" fill="#000"/>
<ellipse cx="611.5" cy="107.9" rx="2.05" ry="1.84" fill="#000"/>
<ellipse cx="610" cy="113.8" rx="2.05" ry="1.84" fill="#000"/>
<ellipse cx="608.9" cy="144.4" rx="2.05" ry="1.84" fill="#000"/>
<ellipse cx="626.8" cy="91.4" rx="2.05" ry="1.84" fill="#000"/>
<text x="458.80" y="17.12" font-size="15.5" text-anchor="middle" font-weight="bold" fill="#000" >*</text>
<text x="477.60" y="39.71" font-size="15.5" text-anchor="middle" font-weight="bold" fill="#000" >*</text>
<text x="496.40" y="39.71" font-size="15.5" text-anchor="middle" font-weight="bold" fill="#000" >*</text>
<text x="375.60" y="15.60" font-size="19" text-anchor="start" font-weight="bold" fill="#000" >C</text>
<path d="M62.70,449.00 C66.87,448.93 81.48,448.87 87.70,448.60 C93.92,448.33 95.47,447.85 100.00,447.40 C104.53,446.95 109.93,446.72 114.90,445.90 C119.87,445.08 126.07,443.65 129.80,442.50 C133.53,441.35 134.82,440.25 137.30,439.00 C139.78,437.75 142.22,436.53 144.70,435.00 C147.18,433.47 149.72,431.47 152.20,429.80 C154.68,428.13 157.12,426.48 159.60,425.00 C162.08,423.52 164.62,422.22 167.10,420.90 C169.58,419.58 172.02,418.15 174.50,417.10 C176.98,416.05 179.52,415.22 182.00,414.60 C184.48,413.98 186.92,413.65 189.40,413.40 C191.88,413.15 193.47,413.27 196.90,413.10 C200.33,412.93 205.90,412.65 210.00,412.40 C214.10,412.15 217.33,411.83 221.50,411.60 C225.67,411.37 231.08,411.02 235.00,411.00 C238.92,410.98 241.67,411.12 245.00,411.50 C248.33,411.88 252.17,412.58 255.00,413.30 C257.83,414.02 259.50,415.00 262.00,415.80 C264.50,416.60 267.18,417.33 270.00,418.10 C272.82,418.87 275.92,419.43 278.90,420.40 C281.88,421.37 284.92,422.57 287.90,423.90 C290.88,425.23 293.82,426.98 296.80,428.40 C299.78,429.82 302.82,431.20 305.80,432.40 C308.78,433.60 311.72,434.50 314.70,435.60 C317.68,436.70 320.98,437.80 323.70,439.00 C326.42,440.20 328.80,441.75 331.00,442.80 C333.20,443.85 334.92,444.62 336.90,445.30 C338.88,445.98 340.72,446.43 342.90,446.90 C345.08,447.37 347.15,447.77 350.00,448.10 C352.85,448.43 356.33,448.72 360.00,448.90 C363.67,449.08 370.00,449.15 372.00,449.20 L372.00,449.2 L62.70,449.2Z" fill="#F8766D" fill-opacity="0.25" stroke="none"/>
<path d="M62.70,449.00 C68.92,448.97 90.45,448.87 100.00,448.80 C109.55,448.73 114.68,448.72 120.00,448.60 C125.32,448.48 128.92,448.37 131.90,448.10 C134.88,447.83 135.92,447.37 137.90,447.00 C139.88,446.63 141.82,446.28 143.80,445.90 C145.78,445.52 147.80,445.18 149.80,444.70 C151.80,444.22 154.10,443.53 155.80,443.00 C157.50,442.47 158.43,442.00 160.00,441.50 C161.57,441.00 163.47,440.55 165.20,440.00 C166.93,439.45 168.67,438.82 170.40,438.20 C172.13,437.58 173.85,436.85 175.60,436.30 C177.35,435.75 179.15,435.33 180.90,434.90 C182.65,434.47 184.37,434.08 186.10,433.70 C187.83,433.32 189.57,432.95 191.30,432.60 C193.03,432.25 194.77,431.93 196.50,431.60 C198.23,431.27 199.97,431.12 201.70,430.60 C203.43,430.08 205.15,429.38 206.90,428.50 C208.65,427.62 210.45,426.43 212.20,425.30 C213.95,424.17 216.10,422.72 217.40,421.70 C218.70,420.68 218.82,420.30 220.00,419.20 C221.18,418.10 223.02,416.52 224.50,415.10 C225.98,413.68 227.42,412.12 228.90,410.70 C230.38,409.28 231.90,407.88 233.40,406.60 C234.90,405.32 236.40,404.12 237.90,403.00 C239.40,401.88 240.92,400.80 242.40,399.90 C243.88,399.00 245.32,398.25 246.80,397.60 C248.28,396.95 249.80,396.40 251.30,396.00 C252.80,395.60 254.30,395.32 255.80,395.20 C257.30,395.08 258.82,395.07 260.30,395.30 C261.78,395.53 263.22,395.98 264.70,396.60 C266.18,397.22 267.70,398.07 269.20,399.00 C270.70,399.93 272.17,401.10 273.70,402.20 C275.23,403.30 276.78,404.37 278.40,405.60 C280.02,406.83 281.82,408.33 283.40,409.60 C284.98,410.87 286.40,411.97 287.90,413.20 C289.40,414.43 290.92,415.83 292.40,417.00 C293.88,418.17 295.32,419.22 296.80,420.20 C298.28,421.18 299.80,422.07 301.30,422.90 C302.80,423.73 304.30,424.50 305.80,425.20 C307.30,425.90 308.82,426.50 310.30,427.10 C311.78,427.70 313.22,428.28 314.70,428.80 C316.18,429.32 317.48,429.75 319.20,430.20 C320.92,430.65 322.05,431.00 325.00,431.50 C327.95,432.00 332.93,432.62 336.90,433.20 C340.87,433.78 346.02,434.57 348.80,435.00 C351.58,435.43 351.60,435.27 353.60,435.80 C355.60,436.33 358.62,437.40 360.80,438.20 C362.98,439.00 364.72,439.82 366.70,440.60 C368.68,441.38 370.72,442.22 372.70,442.90 C374.68,443.58 376.62,444.17 378.60,444.70 C380.58,445.23 382.60,445.67 384.60,446.10 C386.60,446.53 388.62,446.98 390.60,447.30 C392.58,447.62 394.10,447.80 396.50,448.00 C398.90,448.20 401.92,448.33 405.00,448.50 C408.08,448.67 410.90,448.88 415.00,449.00 C419.10,449.12 427.17,449.17 429.60,449.20 L429.60,449.2 L62.70,449.2Z" fill="#00BA38" fill-opacity="0.25" stroke="none"/>
<path d="M62.70,449.00 C68.92,448.97 90.45,448.87 100.00,448.80 C109.55,448.73 114.68,448.72 120.00,448.60 C125.32,448.48 128.92,448.37 131.90,448.10 C134.88,447.83 135.92,447.37 137.90,447.00 C139.88,446.63 141.82,446.28 143.80,445.90 C145.78,445.52 147.80,445.18 149.80,444.70 C151.80,444.22 154.10,443.53 155.80,443.00 C157.50,442.47 158.43,442.00 160.00,441.50 C161.57,441.00 163.47,440.55 165.20,440.00 C166.93,439.45 168.67,438.82 170.40,438.20 C172.13,437.58 173.85,436.85 175.60,436.30 C177.35,435.75 179.15,435.33 180.90,434.90 C182.65,434.47 184.37,434.08 186.10,433.70 C187.83,433.32 189.57,432.95 191.30,432.60 C193.03,432.25 194.77,431.93 196.50,431.60 C198.23,431.27 199.97,431.12 201.70,430.60 C203.43,430.08 205.15,429.38 206.90,428.50 C208.65,427.62 210.45,426.43 212.20,425.30 C213.95,424.17 216.10,422.72 217.40,421.70 C218.70,420.68 218.82,420.30 220.00,419.20 C221.18,418.10 223.02,416.52 224.50,415.10 C225.98,413.68 227.42,412.12 228.90,410.70 C230.38,409.28 231.90,407.88 233.40,406.60 C234.90,405.32 236.40,404.12 237.90,403.00 C239.40,401.88 240.92,400.80 242.40,399.90 C243.88,399.00 245.32,398.25 246.80,397.60 C248.28,396.95 249.80,396.40 251.30,396.00 C252.80,395.60 254.30,395.32 255.80,395.20 C257.30,395.08 258.82,395.07 260.30,395.30 C261.78,395.53 263.22,395.98 264.70,396.60 C266.18,397.22 267.70,398.07 269.20,399.00 C270.70,399.93 272.17,401.10 273.70,402.20 C275.23,403.30 276.78,404.37 278.40,405.60 C280.02,406.83 281.82,408.33 283.40,409.60 C284.98,410.87 286.40,411.97 287.90,413.20 C289.40,414.43 290.92,415.83 292.40,417.00 C293.88,418.17 295.32,419.22 296.80,420.20 C298.28,421.18 299.80,422.07 301.30,422.90 C302.80,423.73 304.30,424.50 305.80,425.20 C307.30,425.90 308.82,426.50 310.30,427.10 C311.78,427.70 313.22,428.28 314.70,428.80 C316.18,429.32 317.48,429.75 319.20,430.20 C320.92,430.65 322.05,431.00 325.00,431.50 C327.95,432.00 332.93,432.62 336.90,433.20 C340.87,433.78 346.02,434.57 348.80,435.00 C351.58,435.43 351.60,435.27 353.60,435.80 C355.60,436.33 358.62,437.40 360.80,438.20 C362.98,439.00 364.72,439.82 366.70,440.60 C368.68,441.38 370.72,442.22 372.70,442.90 C374.68,443.58 376.62,444.17 378.60,444.70 C380.58,445.23 382.60,445.67 384.60,446.10 C386.60,446.53 388.62,446.98 390.60,447.30 C392.58,447.62 394.10,447.80 396.50,448.00 C398.90,448.20 401.92,448.33 405.00,448.50 C408.08,448.67 410.90,448.88 415.00,449.00 C419.10,449.12 427.17,449.17 429.60,449.20" fill="none" stroke="#111" stroke-width="1.3" stroke-linejoin="round"/>
<path d="M62.70,449.00 C68.92,448.98 90.45,448.95 100.00,448.90 C109.55,448.85 114.68,448.77 120.00,448.70 C125.32,448.63 128.92,448.65 131.90,448.50 C134.88,448.35 135.92,448.08 137.90,447.80 C139.88,447.52 141.82,447.17 143.80,446.80 C145.78,446.43 147.80,445.97 149.80,445.60 C151.80,445.23 154.10,445.02 155.80,444.60 C157.50,444.18 158.43,443.63 160.00,443.10 C161.57,442.57 163.47,441.95 165.20,441.40 C166.93,440.85 168.67,440.33 170.40,439.80 C172.13,439.27 173.85,438.73 175.60,438.20 C177.35,437.67 179.15,437.07 180.90,436.60 C182.65,436.13 184.37,435.78 186.10,435.40 C187.83,435.02 189.57,434.65 191.30,434.30 C193.03,433.95 194.77,433.63 196.50,433.30 C198.23,432.97 199.97,432.67 201.70,432.30 C203.43,431.93 205.15,431.57 206.90,431.10 C208.65,430.63 210.45,430.03 212.20,429.50 C213.95,428.97 216.10,428.30 217.40,427.90 C218.70,427.50 218.82,427.58 220.00,427.10 C221.18,426.62 223.02,425.78 224.50,425.00 C225.98,424.22 227.42,423.20 228.90,422.40 C230.38,421.60 231.90,420.88 233.40,420.20 C234.90,419.52 236.40,418.90 237.90,418.30 C239.40,417.70 240.92,417.13 242.40,416.60 C243.88,416.07 245.32,415.58 246.80,415.10 C248.28,414.62 249.80,414.15 251.30,413.70 C252.80,413.25 254.30,412.83 255.80,412.40 C257.30,411.97 258.82,411.53 260.30,411.10 C261.78,410.67 263.22,410.25 264.70,409.80 C266.18,409.35 267.82,408.83 269.20,408.40 C270.58,407.97 271.47,407.63 273.00,407.20 C274.53,406.77 276.78,406.10 278.40,405.80 C280.02,405.50 280.93,405.52 282.70,405.40 C284.47,405.28 286.90,405.07 289.00,405.10 C291.10,405.13 293.25,405.28 295.30,405.60 C297.35,405.92 299.18,406.37 301.30,407.00 C303.42,407.63 305.77,408.47 308.00,409.40 C310.23,410.33 312.58,411.53 314.70,412.60 C316.82,413.67 318.98,414.87 320.70,415.80 C322.42,416.73 323.28,417.23 325.00,418.20 C326.72,419.17 329.02,420.45 331.00,421.60 C332.98,422.75 334.92,423.88 336.90,425.10 C338.88,426.32 340.92,427.70 342.90,428.90 C344.88,430.10 347.02,431.30 348.80,432.30 C350.58,433.30 351.60,433.95 353.60,434.90 C355.60,435.85 358.62,437.08 360.80,438.00 C362.98,438.92 364.72,439.60 366.70,440.40 C368.68,441.20 370.72,442.10 372.70,442.80 C374.68,443.50 376.62,444.07 378.60,444.60 C380.58,445.13 382.60,445.57 384.60,446.00 C386.60,446.43 388.62,446.88 390.60,447.20 C392.58,447.52 394.10,447.70 396.50,447.90 C398.90,448.10 401.92,448.23 405.00,448.40 C408.08,448.57 410.90,448.77 415.00,448.90 C419.10,449.03 427.17,449.15 429.60,449.20 L429.60,449.2 L62.70,449.2Z" fill="#619CFF" fill-opacity="0.25" stroke="none"/>
<path d="M62.70,449.00 C68.92,448.98 90.45,448.95 100.00,448.90 C109.55,448.85 114.68,448.77 120.00,448.70 C125.32,448.63 128.92,448.65 131.90,448.50 C134.88,448.35 135.92,448.08 137.90,447.80 C139.88,447.52 141.82,447.17 143.80,446.80 C145.78,446.43 147.80,445.97 149.80,445.60 C151.80,445.23 154.10,445.02 155.80,444.60 C157.50,444.18 158.43,443.63 160.00,443.10 C161.57,442.57 163.47,441.95 165.20,441.40 C166.93,440.85 168.67,440.33 170.40,439.80 C172.13,439.27 173.85,438.73 175.60,438.20 C177.35,437.67 179.15,437.07 180.90,436.60 C182.65,436.13 184.37,435.78 186.10,435.40 C187.83,435.02 189.57,434.65 191.30,434.30 C193.03,433.95 194.77,433.63 196.50,433.30 C198.23,432.97 199.97,432.67 201.70,432.30 C203.43,431.93 205.15,431.57 206.90,431.10 C208.65,430.63 210.45,430.03 212.20,429.50 C213.95,428.97 216.10,428.30 217.40,427.90 C218.70,427.50 218.82,427.58 220.00,427.10 C221.18,426.62 223.02,425.78 224.50,425.00 C225.98,424.22 227.42,423.20 228.90,422.40 C230.38,421.60 231.90,420.88 233.40,420.20 C234.90,419.52 236.40,418.90 237.90,418.30 C239.40,417.70 240.92,417.13 242.40,416.60 C243.88,416.07 245.32,415.58 246.80,415.10 C248.28,414.62 249.80,414.15 251.30,413.70 C252.80,413.25 254.30,412.83 255.80,412.40 C257.30,411.97 258.82,411.53 260.30,411.10 C261.78,410.67 263.22,410.25 264.70,409.80 C266.18,409.35 267.82,408.83 269.20,408.40 C270.58,407.97 271.47,407.63 273.00,407.20 C274.53,406.77 276.78,406.10 278.40,405.80 C280.02,405.50 280.93,405.52 282.70,405.40 C284.47,405.28 286.90,405.07 289.00,405.10 C291.10,405.13 293.25,405.28 295.30,405.60 C297.35,405.92 299.18,406.37 301.30,407.00 C303.42,407.63 305.77,408.47 308.00,409.40 C310.23,410.33 312.58,411.53 314.70,412.60 C316.82,413.67 318.98,414.87 320.70,415.80 C322.42,416.73 323.28,417.23 325.00,418.20 C326.72,419.17 329.02,420.45 331.00,421.60 C332.98,422.75 334.92,423.88 336.90,425.10 C338.88,426.32 340.92,427.70 342.90,428.90 C344.88,430.10 347.02,431.30 348.80,432.30 C350.58,433.30 351.60,433.95 353.60,434.90 C355.60,435.85 358.62,437.08 360.80,438.00 C362.98,438.92 364.72,439.60 366.70,440.40 C368.68,441.20 370.72,442.10 372.70,442.80 C374.68,443.50 376.62,444.07 378.60,444.60 C380.58,445.13 382.60,445.57 384.60,446.00 C386.60,446.43 388.62,446.88 390.60,447.20 C392.58,447.52 394.10,447.70 396.50,447.90 C398.90,448.10 401.92,448.23 405.00,448.40 C408.08,448.57 410.90,448.77 415.00,448.90 C419.10,449.03 427.17,449.15 429.60,449.20" fill="none" stroke="#111" stroke-width="1.3" stroke-linejoin="round"/>
<path d="M44.6,394.4 L44.6,449.4 L447.1,449.4" fill="none" stroke="#000" stroke-width="1.3"/>
<path d="M223.5,394.6 L223.5,369.5 L278.5,369.5 L278.5,392.5" fill="none" stroke="#333" stroke-width="1.0"/>
<path d="M223.5,394.6 L223.5,381.5 L259.5,381.5 L259.5,392.5" fill="none" stroke="#333" stroke-width="1.0"/>
<path d="M259.5,392.5 L259.5,392.5 L278.5,392.5 L278.5,394.6" fill="none" stroke="#333" stroke-width="1.0"/>
<line x1="223.5" x2="223.5" y1="394.6" y2="449.2" stroke="#F8766D" stroke-width="1.1"/>
<line x1="259.5" x2="259.5" y1="393.0" y2="449.2" stroke="#00BA38" stroke-width="1.1"/>
<line x1="278.5" x2="278.5" y1="394.6" y2="449.2" stroke="#619CFF" stroke-width="1.1"/>
<text x="248.80" y="369.09" font-size="14.5" text-anchor="middle" font-weight="bold" fill="#000" >*</text>
<text x="239.60" y="381.59" font-size="14.5" text-anchor="middle" font-weight="bold" fill="#000" >*</text>
<text x="268.50" y="389.20" font-size="12.2" text-anchor="middle" font-weight="normal" fill="#111" >ns</text>
<text x="37.60" y="402.20" font-size="11.5" text-anchor="end" font-weight="normal" fill="#000" >1</text>
<text x="37.60" y="454.60" font-size="11.5" text-anchor="end" font-weight="normal" fill="#000" >0</text>
<text x="63.30" y="464.00" font-size="12" text-anchor="middle" font-weight="normal" fill="#000" >10</text>
<text x="175.10" y="464.00" font-size="12" text-anchor="middle" font-weight="normal" fill="#000" >100</text>
<text x="286.90" y="464.00" font-size="12" text-anchor="middle" font-weight="normal" fill="#000" >1000</text>
<text x="398.70" y="464.00" font-size="12" text-anchor="middle" font-weight="normal" fill="#000" >10000</text>
<text transform="translate(21.6,422.8) rotate(-90)" font-size="15" text-anchor="middle" fill="#000">Density</text>
<text x="262.30" y="487.00" font-size="15" text-anchor="middle" font-weight="normal" fill="#000" >3&#39;UTR Length</text>
<text x="0.40" y="355.50" font-size="19" text-anchor="start" font-weight="bold" fill="#000" >D</text>
<path d="M63.10,579.60 C71.08,579.33 95.02,578.68 111.00,578.00 C126.98,577.32 145.83,576.42 159.00,575.50 C172.17,574.58 176.50,573.65 190.00,572.50 C203.50,571.35 222.92,570.20 240.00,568.60 C257.08,567.00 279.17,564.33 292.50,562.90 C305.83,561.47 312.08,560.98 320.00,560.00 C327.92,559.02 335.00,557.83 340.00,557.00 C345.00,556.17 347.17,555.73 350.00,555.00 C352.83,554.27 354.73,553.42 357.00,552.60 C359.27,551.78 361.43,551.10 363.60,550.10 C365.77,549.10 367.88,547.75 370.00,546.60 C372.12,545.45 373.57,544.62 376.30,543.20 C379.03,541.78 383.03,539.78 386.40,538.10 C389.77,536.42 393.12,534.70 396.50,533.10 C399.88,531.50 403.73,529.65 406.70,528.50 C409.67,527.35 411.98,526.63 414.30,526.20 C416.62,525.77 418.70,525.63 420.60,525.90 C422.50,526.17 424.02,526.62 425.70,527.80 C427.38,528.98 429.02,530.85 430.70,533.00 C432.38,535.15 434.32,538.15 435.80,540.70 C437.28,543.25 438.65,546.28 439.60,548.30 C440.55,550.32 441.18,552.05 441.50,552.80 L441.5,580.3 L63.1,580.3Z" fill="#F8766D" fill-opacity="0.25"/>
<path d="M63.10,578.40 C65.22,578.20 71.70,577.60 75.80,577.20 C79.90,576.80 83.73,576.40 87.70,576.00 C91.67,575.60 95.63,575.20 99.60,574.80 C103.57,574.40 107.52,574.07 111.50,573.60 C115.48,573.13 119.52,572.58 123.50,572.00 C127.48,571.42 131.43,570.82 135.40,570.10 C139.37,569.38 143.33,568.50 147.30,567.70 C151.27,566.90 155.23,566.05 159.20,565.30 C163.17,564.55 167.12,563.85 171.10,563.20 C175.08,562.55 179.95,561.82 183.10,561.40 C186.25,560.98 186.87,560.97 190.00,560.70 C193.13,560.43 197.93,560.03 201.90,559.80 C205.87,559.57 209.82,559.30 213.80,559.30 C217.78,559.30 221.82,559.60 225.80,559.80 C229.78,560.00 233.73,560.30 237.70,560.50 C241.67,560.70 245.63,560.92 249.60,561.00 C253.57,561.08 257.52,561.28 261.50,561.00 C265.48,560.72 269.52,559.97 273.50,559.30 C277.48,558.63 281.43,557.90 285.40,557.00 C289.37,556.10 293.33,554.90 297.30,553.90 C301.27,552.90 305.23,551.77 309.20,551.00 C313.17,550.23 317.12,549.70 321.10,549.30 C325.08,548.90 329.12,548.60 333.10,548.60 C337.08,548.60 340.87,548.75 345.00,549.30 C349.13,549.85 354.27,551.15 357.90,551.90 C361.53,552.65 363.82,553.03 366.80,553.80 C369.78,554.57 371.33,555.18 375.80,556.50 C380.27,557.82 387.65,560.15 393.60,561.70 C399.55,563.25 405.53,564.52 411.50,565.80 C417.47,567.08 424.40,568.32 429.40,569.40 C434.40,570.48 439.48,571.82 441.50,572.30 L441.5,580.3 L63.1,580.3Z" fill="#00BA38" fill-opacity="0.25"/>
<path d="M63.10,578.40 C65.22,578.20 71.70,577.60 75.80,577.20 C79.90,576.80 83.73,576.40 87.70,576.00 C91.67,575.60 95.63,575.20 99.60,574.80 C103.57,574.40 107.52,574.07 111.50,573.60 C115.48,573.13 119.52,572.58 123.50,572.00 C127.48,571.42 131.43,570.82 135.40,570.10 C139.37,569.38 143.33,568.50 147.30,567.70 C151.27,566.90 155.23,566.05 159.20,565.30 C163.17,564.55 167.12,563.85 171.10,563.20 C175.08,562.55 179.95,561.82 183.10,561.40 C186.25,560.98 186.87,560.97 190.00,560.70 C193.13,560.43 197.93,560.03 201.90,559.80 C205.87,559.57 209.82,559.30 213.80,559.30 C217.78,559.30 221.82,559.60 225.80,559.80 C229.78,560.00 233.73,560.30 237.70,560.50 C241.67,560.70 245.63,560.92 249.60,561.00 C253.57,561.08 257.52,561.28 261.50,561.00 C265.48,560.72 269.52,559.97 273.50,559.30 C277.48,558.63 281.43,557.90 285.40,557.00 C289.37,556.10 293.33,554.90 297.30,553.90 C301.27,552.90 305.23,551.77 309.20,551.00 C313.17,550.23 317.12,549.70 321.10,549.30 C325.08,548.90 329.12,548.60 333.10,548.60 C337.08,548.60 340.87,548.75 345.00,549.30 C349.13,549.85 354.27,551.15 357.90,551.90 C361.53,552.65 363.82,553.03 366.80,553.80 C369.78,554.57 371.33,555.18 375.80,556.50 C380.27,557.82 387.65,560.15 393.60,561.70 C399.55,563.25 405.53,564.52 411.50,565.80 C417.47,567.08 424.40,568.32 429.40,569.40 C434.40,570.48 439.48,571.82 441.50,572.30" fill="none" stroke="#111" stroke-width="1.3"/>
<path d="M63.10,576.50 C65.22,575.90 71.70,573.97 75.80,572.90 C79.90,571.83 83.73,570.88 87.70,570.10 C91.67,569.32 95.63,568.68 99.60,568.20 C103.57,567.72 107.52,567.45 111.50,567.20 C115.48,566.95 119.52,566.82 123.50,566.70 C127.48,566.58 131.43,566.62 135.40,566.50 C139.37,566.38 143.33,566.20 147.30,566.00 C151.27,565.80 155.23,565.50 159.20,565.30 C163.17,565.10 167.12,564.98 171.10,564.80 C175.08,564.62 179.95,564.33 183.10,564.20 C186.25,564.07 184.88,564.13 190.00,564.00 C195.12,563.87 205.85,563.67 213.80,563.40 C221.75,563.13 229.75,562.68 237.70,562.40 C245.65,562.12 253.55,562.08 261.50,561.70 C269.45,561.32 279.43,560.50 285.40,560.10 C291.37,559.70 293.33,559.63 297.30,559.30 C301.27,558.97 305.23,558.48 309.20,558.10 C313.17,557.72 317.12,557.37 321.10,557.00 C325.08,556.63 329.12,556.18 333.10,555.90 C337.08,555.62 340.87,555.43 345.00,555.30 C349.13,555.17 352.77,555.08 357.90,555.10 C363.03,555.12 369.85,555.10 375.80,555.40 C381.75,555.70 387.65,556.15 393.60,556.90 C399.55,557.65 407.02,558.98 411.50,559.90 C415.98,560.82 417.52,561.52 420.50,562.40 C423.48,563.28 425.90,564.03 429.40,565.20 C432.90,566.37 439.48,568.70 441.50,569.40 L441.5,580.3 L63.1,580.3Z" fill="#619CFF" fill-opacity="0.25"/>
<path d="M63.10,576.50 C65.22,575.90 71.70,573.97 75.80,572.90 C79.90,571.83 83.73,570.88 87.70,570.10 C91.67,569.32 95.63,568.68 99.60,568.20 C103.57,567.72 107.52,567.45 111.50,567.20 C115.48,566.95 119.52,566.82 123.50,566.70 C127.48,566.58 131.43,566.62 135.40,566.50 C139.37,566.38 143.33,566.20 147.30,566.00 C151.27,565.80 155.23,565.50 159.20,565.30 C163.17,565.10 167.12,564.98 171.10,564.80 C175.08,564.62 179.95,564.33 183.10,564.20 C186.25,564.07 184.88,564.13 190.00,564.00 C195.12,563.87 205.85,563.67 213.80,563.40 C221.75,563.13 229.75,562.68 237.70,562.40 C245.65,562.12 253.55,562.08 261.50,561.70 C269.45,561.32 279.43,560.50 285.40,560.10 C291.37,559.70 293.33,559.63 297.30,559.30 C301.27,558.97 305.23,558.48 309.20,558.10 C313.17,557.72 317.12,557.37 321.10,557.00 C325.08,556.63 329.12,556.18 333.10,555.90 C337.08,555.62 340.87,555.43 345.00,555.30 C349.13,555.17 352.77,555.08 357.90,555.10 C363.03,555.12 369.85,555.10 375.80,555.40 C381.75,555.70 387.65,556.15 393.60,556.90 C399.55,557.65 407.02,558.98 411.50,559.90 C415.98,560.82 417.52,561.52 420.50,562.40 C423.48,563.28 425.90,564.03 429.40,565.20 C432.90,566.37 439.48,568.70 441.50,569.40" fill="none" stroke="#111" stroke-width="1.3"/>
<path d="M44.6,525.1 L44.6,580.3 L460.1,580.3" fill="none" stroke="#000" stroke-width="1.3"/>
<path d="M294.5,523 L294.5,500.5 L369.5,500.5 L369.5,525.5" fill="none" stroke="#333" stroke-width="1.0"/>
<path d="M317.5,523 L317.5,512.5 L369.5,512.5 L369.5,525.5" fill="none" stroke="#333" stroke-width="1.0"/>
<path d="M294.5,525.2 L294.5,522.5 L317.5,522.5 L317.5,525.2" fill="none" stroke="#333" stroke-width="1.0"/>
<line x1="294.5" x2="294.5" y1="523.0" y2="580.3" stroke="#619CFF" stroke-width="1.1"/>
<line x1="317.5" x2="317.5" y1="523.0" y2="580.3" stroke="#00BA38" stroke-width="1.1"/>
<line x1="369.5" x2="369.5" y1="525.5" y2="580.3" stroke="#F8766D" stroke-width="1.1"/>
<text x="330.30" y="500.69" font-size="14.5" text-anchor="middle" font-weight="bold" fill="#000" >*</text>
<text x="341.60" y="513.49" font-size="14.5" text-anchor="middle" font-weight="bold" fill="#000" >*</text>
<text x="304.40" y="519.60" font-size="12.2" text-anchor="middle" font-weight="normal" fill="#111" >ns</text>
<text x="40.60" y="532.80" font-size="11.5" text-anchor="end" font-weight="normal" fill="#000" >3</text>
<text x="40.60" y="587.10" font-size="11.5" text-anchor="end" font-weight="normal" fill="#000" >0</text>
<text x="156.60" y="596.40" font-size="12" text-anchor="middle" font-weight="normal" fill="#000" >0.25</text>
<text x="251.60" y="596.40" font-size="12" text-anchor="middle" font-weight="normal" fill="#000" >0.50</text>
<text x="346.60" y="596.40" font-size="12" text-anchor="middle" font-weight="normal" fill="#000" >0.75</text>
<text x="441.60" y="596.40" font-size="12" text-anchor="middle" font-weight="normal" fill="#000" >1.00</text>
<text transform="translate(22.0,550.2) rotate(-90)" font-size="15" text-anchor="middle" fill="#000">Density</text>
<text x="254.70" y="619.10" font-size="15" text-anchor="middle" font-weight="normal" fill="#000" >Normalized Location in 3&#39;UTR</text>
<text x="-0.30" y="500.90" font-size="19" text-anchor="start" font-weight="bold" fill="#000" >E</text>
<path d="M41.00,713.20 C59.17,713.17 128.50,713.17 150.00,713.00 C171.50,712.83 164.17,712.53 170.00,712.20 C175.83,711.87 180.00,711.50 185.00,711.00 C190.00,710.50 195.00,710.28 200.00,709.20 C205.00,708.12 209.87,706.45 215.00,704.50 C220.13,702.55 226.30,699.83 230.80,697.50 C235.30,695.17 238.80,692.42 242.00,690.50 C245.20,688.58 247.67,687.33 250.00,686.00 C252.33,684.67 254.00,683.83 256.00,682.50 C258.00,681.17 259.67,679.82 262.00,678.00 C264.33,676.18 267.83,673.30 270.00,671.60 C272.17,669.90 273.17,668.87 275.00,667.80 C276.83,666.73 279.17,665.80 281.00,665.20 C282.83,664.60 284.50,664.50 286.00,664.20 C287.50,663.90 288.50,663.70 290.00,663.40 C291.50,663.10 293.33,662.62 295.00,662.40 C296.67,662.18 298.20,661.95 300.00,662.10 C301.80,662.25 303.85,662.60 305.80,663.30 C307.75,664.00 309.72,664.98 311.70,666.30 C313.68,667.62 315.70,669.38 317.70,671.20 C319.70,673.02 321.72,675.20 323.70,677.20 C325.68,679.20 327.62,681.22 329.60,683.20 C331.58,685.18 333.62,687.42 335.60,689.10 C337.58,690.78 339.52,692.15 341.50,693.30 C343.48,694.45 345.25,694.85 347.50,696.00 C349.75,697.15 352.08,698.57 355.00,700.20 C357.92,701.83 361.67,704.20 365.00,705.80 C368.33,707.40 370.83,708.68 375.00,709.80 C379.17,710.92 384.17,711.93 390.00,712.50 C395.83,713.07 406.67,713.08 410.00,713.20 L410.00,713.2 L41.00,713.2Z" fill="#F8766D" fill-opacity="0.25" stroke="none"/>
<path d="M41.00,713.20 C59.17,713.18 126.00,713.15 150.00,713.10 C174.00,713.05 177.50,713.02 185.00,712.90 C192.50,712.78 192.33,712.58 195.00,712.40 C197.67,712.22 199.02,712.20 201.00,711.80 C202.98,711.40 204.92,710.80 206.90,710.00 C208.88,709.20 210.92,708.50 212.90,707.00 C214.88,705.50 216.82,703.38 218.80,701.00 C220.78,698.62 222.80,695.87 224.80,692.70 C226.80,689.53 228.82,685.58 230.80,682.00 C232.78,678.42 234.72,674.38 236.70,671.20 C238.68,668.02 240.70,665.03 242.70,662.90 C244.70,660.77 246.72,659.27 248.70,658.40 C250.68,657.53 252.93,657.55 254.60,657.70 C256.27,657.85 257.38,658.63 258.70,659.30 C260.02,659.97 261.25,660.83 262.50,661.70 C263.75,662.57 264.72,663.53 266.20,664.50 C267.68,665.47 269.92,666.53 271.40,667.50 C272.88,668.47 273.48,669.22 275.10,670.30 C276.72,671.38 278.87,672.70 281.10,674.00 C283.33,675.30 286.02,676.80 288.50,678.10 C290.98,679.40 293.25,680.68 296.00,681.80 C298.75,682.92 302.38,683.88 305.00,684.80 C307.62,685.72 309.58,686.50 311.70,687.30 C313.82,688.10 315.70,688.92 317.70,689.60 C319.70,690.28 321.72,690.88 323.70,691.40 C325.68,691.92 327.62,692.28 329.60,692.70 C331.58,693.12 333.62,693.50 335.60,693.90 C337.58,694.30 339.28,694.72 341.50,695.10 C343.72,695.48 346.17,695.45 348.90,696.20 C351.63,696.95 354.92,698.15 357.90,699.60 C360.88,701.05 363.82,703.28 366.80,704.90 C369.78,706.52 372.82,708.12 375.80,709.30 C378.78,710.48 381.73,711.42 384.70,712.00 C387.67,712.58 387.72,712.60 393.60,712.80 C399.48,713.00 409.77,713.13 420.00,713.20 C430.23,713.27 449.17,713.20 455.00,713.20 L455.00,713.2 L41.00,713.2Z" fill="#00BA38" fill-opacity="0.25" stroke="none"/>
<path d="M41.00,713.20 C59.17,713.18 126.00,713.15 150.00,713.10 C174.00,713.05 177.50,713.02 185.00,712.90 C192.50,712.78 192.33,712.58 195.00,712.40 C197.67,712.22 199.02,712.20 201.00,711.80 C202.98,711.40 204.92,710.80 206.90,710.00 C208.88,709.20 210.92,708.50 212.90,707.00 C214.88,705.50 216.82,703.38 218.80,701.00 C220.78,698.62 222.80,695.87 224.80,692.70 C226.80,689.53 228.82,685.58 230.80,682.00 C232.78,678.42 234.72,674.38 236.70,671.20 C238.68,668.02 240.70,665.03 242.70,662.90 C244.70,660.77 246.72,659.27 248.70,658.40 C250.68,657.53 252.93,657.55 254.60,657.70 C256.27,657.85 257.38,658.63 258.70,659.30 C260.02,659.97 261.25,660.83 262.50,661.70 C263.75,662.57 264.72,663.53 266.20,664.50 C267.68,665.47 269.92,666.53 271.40,667.50 C272.88,668.47 273.48,669.22 275.10,670.30 C276.72,671.38 278.87,672.70 281.10,674.00 C283.33,675.30 286.02,676.80 288.50,678.10 C290.98,679.40 293.25,680.68 296.00,681.80 C298.75,682.92 302.38,683.88 305.00,684.80 C307.62,685.72 309.58,686.50 311.70,687.30 C313.82,688.10 315.70,688.92 317.70,689.60 C319.70,690.28 321.72,690.88 323.70,691.40 C325.68,691.92 327.62,692.28 329.60,692.70 C331.58,693.12 333.62,693.50 335.60,693.90 C337.58,694.30 339.28,694.72 341.50,695.10 C343.72,695.48 346.17,695.45 348.90,696.20 C351.63,696.95 354.92,698.15 357.90,699.60 C360.88,701.05 363.82,703.28 366.80,704.90 C369.78,706.52 372.82,708.12 375.80,709.30 C378.78,710.48 381.73,711.42 384.70,712.00 C387.67,712.58 387.72,712.60 393.60,712.80 C399.48,713.00 409.77,713.13 420.00,713.20 C430.23,713.27 449.17,713.20 455.00,713.20" fill="none" stroke="#111" stroke-width="1.3" stroke-linejoin="round"/>
<path d="M41.00,713.20 C49.93,713.12 80.70,712.88 94.60,712.70 C108.50,712.52 116.95,712.35 124.40,712.10 C131.85,711.85 134.33,711.52 139.30,711.20 C144.27,710.88 149.23,710.57 154.20,710.20 C159.17,709.83 164.13,709.50 169.10,709.00 C174.07,708.50 179.68,707.83 184.00,707.20 C188.32,706.57 192.17,705.83 195.00,705.20 C197.83,704.57 199.02,704.10 201.00,703.40 C202.98,702.70 204.92,701.88 206.90,701.00 C208.88,700.12 210.92,699.18 212.90,698.10 C214.88,697.02 216.82,695.78 218.80,694.50 C220.78,693.22 222.80,691.65 224.80,690.40 C226.80,689.15 228.82,688.12 230.80,687.00 C232.78,685.88 234.72,684.83 236.70,683.70 C238.68,682.57 240.70,681.35 242.70,680.20 C244.70,679.05 246.65,677.93 248.70,676.80 C250.75,675.67 253.33,674.32 255.00,673.40 C256.67,672.48 257.45,672.02 258.70,671.30 C259.95,670.58 261.25,669.83 262.50,669.10 C263.75,668.37 265.03,667.57 266.20,666.90 C267.37,666.23 268.27,665.68 269.50,665.10 C270.73,664.52 272.05,663.83 273.60,663.40 C275.15,662.97 276.93,662.53 278.80,662.50 C280.67,662.47 282.93,662.65 284.80,663.20 C286.67,663.75 288.13,664.68 290.00,665.80 C291.87,666.92 294.13,668.53 296.00,669.90 C297.87,671.27 299.57,672.55 301.20,674.00 C302.83,675.45 304.05,676.92 305.80,678.60 C307.55,680.28 309.72,682.37 311.70,684.10 C313.68,685.83 315.70,687.62 317.70,689.00 C319.70,690.38 321.72,691.35 323.70,692.40 C325.68,693.45 327.62,694.25 329.60,695.30 C331.58,696.35 333.62,697.58 335.60,698.70 C337.58,699.82 339.28,700.97 341.50,702.00 C343.72,703.03 346.17,703.97 348.90,704.90 C351.63,705.83 354.92,706.80 357.90,707.60 C360.88,708.40 363.82,709.12 366.80,709.70 C369.78,710.28 372.82,710.68 375.80,711.10 C378.78,711.52 380.67,711.90 384.70,712.20 C388.73,712.50 388.28,712.73 400.00,712.90 C411.72,713.07 445.83,713.15 455.00,713.20 L455.00,713.2 L41.00,713.2Z" fill="#619CFF" fill-opacity="0.25" stroke="none"/>
<path d="M41.00,713.20 C49.93,713.12 80.70,712.88 94.60,712.70 C108.50,712.52 116.95,712.35 124.40,712.10 C131.85,711.85 134.33,711.52 139.30,711.20 C144.27,710.88 149.23,710.57 154.20,710.20 C159.17,709.83 164.13,709.50 169.10,709.00 C174.07,708.50 179.68,707.83 184.00,707.20 C188.32,706.57 192.17,705.83 195.00,705.20 C197.83,704.57 199.02,704.10 201.00,703.40 C202.98,702.70 204.92,701.88 206.90,701.00 C208.88,700.12 210.92,699.18 212.90,698.10 C214.88,697.02 216.82,695.78 218.80,694.50 C220.78,693.22 222.80,691.65 224.80,690.40 C226.80,689.15 228.82,688.12 230.80,687.00 C232.78,685.88 234.72,684.83 236.70,683.70 C238.68,682.57 240.70,681.35 242.70,680.20 C244.70,679.05 246.65,677.93 248.70,676.80 C250.75,675.67 253.33,674.32 255.00,673.40 C256.67,672.48 257.45,672.02 258.70,671.30 C259.95,670.58 261.25,669.83 262.50,669.10 C263.75,668.37 265.03,667.57 266.20,666.90 C267.37,666.23 268.27,665.68 269.50,665.10 C270.73,664.52 272.05,663.83 273.60,663.40 C275.15,662.97 276.93,662.53 278.80,662.50 C280.67,662.47 282.93,662.65 284.80,663.20 C286.67,663.75 288.13,664.68 290.00,665.80 C291.87,666.92 294.13,668.53 296.00,669.90 C297.87,671.27 299.57,672.55 301.20,674.00 C302.83,675.45 304.05,676.92 305.80,678.60 C307.55,680.28 309.72,682.37 311.70,684.10 C313.68,685.83 315.70,687.62 317.70,689.00 C319.70,690.38 321.72,691.35 323.70,692.40 C325.68,693.45 327.62,694.25 329.60,695.30 C331.58,696.35 333.62,697.58 335.60,698.70 C337.58,699.82 339.28,700.97 341.50,702.00 C343.72,703.03 346.17,703.97 348.90,704.90 C351.63,705.83 354.92,706.80 357.90,707.60 C360.88,708.40 363.82,709.12 366.80,709.70 C369.78,710.28 372.82,710.68 375.80,711.10 C378.78,711.52 380.67,711.90 384.70,712.20 C388.73,712.50 388.28,712.73 400.00,712.90 C411.72,713.07 445.83,713.15 455.00,713.20" fill="none" stroke="#111" stroke-width="1.3" stroke-linejoin="round"/>
<path d="M40.4,658.3 L40.4,713.3 L455.3,713.3" fill="none" stroke="#000" stroke-width="1.3"/>
<path d="M270.5,656.5 L270.5,641.5 L290.5,641.5 L290.5,658.1" fill="none" stroke="#333" stroke-width="1.0"/>
<path d="M275.5,656.5 L275.5,652.5 L290.5,652.5 L290.5,658.1" fill="none" stroke="#333" stroke-width="1.0"/>
<path d="M270.5,657.6 L270.5,656.5 L275.5,656.5 L275.5,657.6" fill="none" stroke="#333" stroke-width="1.0"/>
<line x1="270.5" x2="270.5" y1="657.0" y2="713.2" stroke="#00BA38" stroke-width="1.1"/>
<line x1="275.5" x2="275.5" y1="657.0" y2="713.2" stroke="#619CFF" stroke-width="1.1"/>
<line x1="290.5" x2="290.5" y1="658.1" y2="713.2" stroke="#F8766D" stroke-width="1.1"/>
<text x="277.60" y="642.68" font-size="14.5" text-anchor="middle" font-weight="bold" fill="#000" >*</text>
<text x="280.70" y="653.99" font-size="14.5" text-anchor="middle" font-weight="bold" fill="#000" >*</text>
<text x="253.30" y="650.20" font-size="12.2" text-anchor="middle" font-weight="normal" fill="#111" >ns</text>
<line x1="261.5" y1="647.4" x2="273.3" y2="654.7" stroke="#333" stroke-width="0.9"/>
<text x="36.20" y="672.40" font-size="11.5" text-anchor="end" font-weight="normal" fill="#000" >5</text>
<text x="36.20" y="719.60" font-size="11.5" text-anchor="end" font-weight="normal" fill="#000" >0</text>
<text x="134.80" y="728.20" font-size="12" text-anchor="middle" font-weight="normal" fill="#000" >0.4</text>
<text x="235.46" y="728.20" font-size="12" text-anchor="middle" font-weight="normal" fill="#000" >0.6</text>
<text x="336.12" y="728.20" font-size="12" text-anchor="middle" font-weight="normal" fill="#000" >0.8</text>
<text x="436.78" y="728.20" font-size="12" text-anchor="middle" font-weight="normal" fill="#000" >1.0</text>
<text transform="translate(22.0,686.0) rotate(-90)" font-size="15" text-anchor="middle" fill="#000">Density</text>
<text x="254.80" y="749.10" font-size="15" text-anchor="middle" font-weight="normal" fill="#000" >AU Content around PRE</text>
<text x="0.40" y="642.70" font-size="19" text-anchor="start" font-weight="bold" fill="#000" >F</text>
<text x="422.00" y="357.30" font-size="15.1" text-anchor="start" font-weight="normal" fill="#000" >PRE Matches</text>
<rect x="422.2" y="364.7" width="16" height="16" fill="#F8766D" fill-opacity="0.25"/>
<rect x="422.6" y="383.0" width="15.4" height="15.4" fill="#00BA38" fill-opacity="0.25" stroke="#222" stroke-width="1.3"/>
<rect x="422.6" y="400.8" width="15.4" height="15.4" fill="#619CFF" fill-opacity="0.25" stroke="#222" stroke-width="1.3"/>
<text x="441.90" y="379.00" font-size="15.2" text-anchor="start" font-weight="normal" fill="#000" >Group 1: 0 Perfect (Best Match)</text>
<text x="441.90" y="397.60" font-size="15.2" text-anchor="start" font-weight="normal" fill="#000" >Group 2: 1+ Perfect with Effect</text>
<text x="441.90" y="415.70" font-size="15.2" text-anchor="start" font-weight="normal" fill="#000" >Group 3: 1+ Perfect with No Effect</text>
</svg></body></html>
